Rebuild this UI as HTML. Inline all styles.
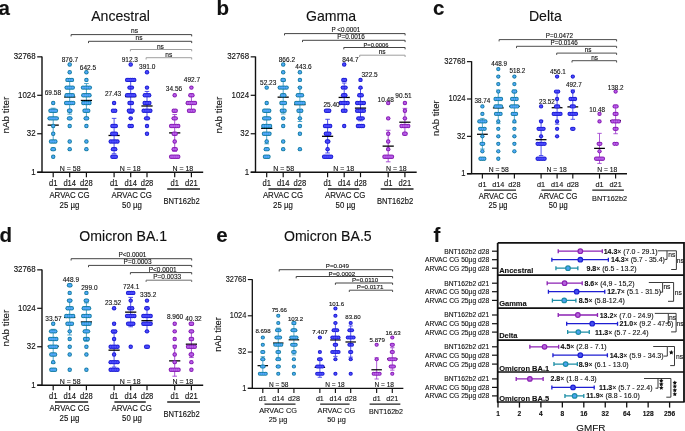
<!DOCTYPE html><html><head><meta charset="utf-8"><style>
html,body{margin:0;padding:0;background:#fff;}
svg{display:block;will-change:transform;}
text{font-family:"Liberation Sans", sans-serif;fill:#111;}
.s text{stroke:#111;stroke-width:0.12px;}
</style></head><body>
<svg class="s" width="685" height="431" viewBox="0 0 685 431">
<text x="-1.5" y="14.9" font-size="20.5" font-weight="bold">a</text>
<text x="216.5" y="14.9" font-size="20.5" font-weight="bold">b</text>
<text x="433" y="14.9" font-size="20.5" font-weight="bold">c</text>
<text x="-0.5" y="241.8" font-size="20.5" font-weight="bold">d</text>
<text x="216.3" y="241.8" font-size="20.5" font-weight="bold">e</text>
<text x="433.5" y="241.6" font-size="20.5" font-weight="bold">f</text>
<text x="120.55" y="21.1" font-size="14.1" text-anchor="middle">Ancestral</text>
<text x="331" y="21.3" font-size="14.1" text-anchor="middle">Gamma</text>
<text x="545.4" y="21.2" font-size="14.1" text-anchor="middle">Delta</text>
<text x="123.2" y="240.8" font-size="14.1" text-anchor="middle">Omicron BA.1</text>
<text x="327.8" y="240.8" font-size="14.1" text-anchor="middle">Omicron BA.5</text>
<g transform="translate(0 0)">
<path d="M42 56.5V172.2M37.2 172.2H203.2" stroke="#111" stroke-width="1.4" fill="none"/>
<path d="M37.2 172.20H42" stroke="#111" stroke-width="1.2"/>
<path d="M37.2 133.75H42" stroke="#111" stroke-width="1.2"/>
<path d="M37.2 95.30H42" stroke="#111" stroke-width="1.2"/>
<path d="M37.2 56.85H42" stroke="#111" stroke-width="1.2"/>
<path d="M53.2 172.2V177.2" stroke="#111" stroke-width="1.2"/>
<path d="M69.7 172.2V177.2" stroke="#111" stroke-width="1.2"/>
<path d="M86.4 172.2V177.2" stroke="#111" stroke-width="1.2"/>
<path d="M114.1 172.2V177.2" stroke="#111" stroke-width="1.2"/>
<path d="M130.7 172.2V177.2" stroke="#111" stroke-width="1.2"/>
<path d="M147.0 172.2V177.2" stroke="#111" stroke-width="1.2"/>
<path d="M174.7 172.2V177.2" stroke="#111" stroke-width="1.2"/>
<path d="M191.4 172.2V177.2" stroke="#111" stroke-width="1.2"/>
<text transform="translate(35.60 59.40) scale(1 1.1)" font-size="7.9" text-anchor="end">32768</text>
<text transform="translate(35.60 97.85) scale(1 1.1)" font-size="7.9" text-anchor="end">1024</text>
<text transform="translate(35.60 136.30) scale(1 1.1)" font-size="7.9" text-anchor="end">32</text>
<text transform="translate(35.60 174.75) scale(1 1.1)" font-size="7.9" text-anchor="end">1</text>
<text transform="translate(8.6 115.1) rotate(-90)" font-size="9.9" text-anchor="middle">nAb titer</text>
<text transform="translate(70.20 170.70) scale(1 1.06)" font-size="7.0" text-anchor="middle">N = 58</text>
<text transform="translate(130.20 170.70) scale(1 1.06)" font-size="7.0" text-anchor="middle">N = 18</text>
<text transform="translate(182.80 170.70) scale(1 1.06)" font-size="7.0" text-anchor="middle">N = 18</text>
<text transform="translate(53.20 185.70) scale(1 1.08)" font-size="7.6" text-anchor="middle">d1</text>
<text transform="translate(69.70 185.70) scale(1 1.08)" font-size="7.6" text-anchor="middle">d14</text>
<text transform="translate(86.40 185.70) scale(1 1.08)" font-size="7.6" text-anchor="middle">d28</text>
<text transform="translate(114.10 185.70) scale(1 1.08)" font-size="7.6" text-anchor="middle">d1</text>
<text transform="translate(130.70 185.70) scale(1 1.08)" font-size="7.6" text-anchor="middle">d14</text>
<text transform="translate(147.00 185.70) scale(1 1.08)" font-size="7.6" text-anchor="middle">d28</text>
<text transform="translate(174.70 185.70) scale(1 1.08)" font-size="7.6" text-anchor="middle">d1</text>
<text transform="translate(191.40 185.70) scale(1 1.08)" font-size="7.6" text-anchor="middle">d21</text>
<path d="M55 189H88.1M114.4 189H145.8M167.2 189H200" stroke="#222" stroke-width="1.3"/>
<text transform="translate(69.50 197.90) scale(1 1.08)" font-size="7.85" text-anchor="middle">ARVAC CG</text>
<text transform="translate(69.40 207.90) scale(1 1.08)" font-size="7.85" text-anchor="middle">25 µg</text>
<text transform="translate(131.70 197.90) scale(1 1.08)" font-size="7.85" text-anchor="middle">ARVAC CG</text>
<text transform="translate(131.90 207.90) scale(1 1.08)" font-size="7.85" text-anchor="middle">50 µg</text>
<text transform="translate(181.50 203.80) scale(1 1.08)" font-size="7.6" text-anchor="middle">BNT162b2</text>
<path d="M53.2 108.21V142.05M50.90 108.21h4.6M50.90 142.05h4.6" stroke="#3a9cc8" stroke-width="0.9" fill="none"/>
<path d="M47.60 125.13h11.2" stroke="#000" stroke-width="1.3"/>
<circle cx="53.20" cy="102.99" r="2.2" fill="#127c9e"/>
<circle cx="53.20" cy="102.99" r="1.2" fill="#58aaff" stroke="#3a9ae0" stroke-width="0.3"/>
<circle cx="50.50" cy="110.68" r="2.2" fill="#127c9e"/>
<circle cx="52.30" cy="110.68" r="2.2" fill="#127c9e"/>
<circle cx="54.10" cy="110.68" r="2.2" fill="#127c9e"/>
<circle cx="55.90" cy="110.68" r="2.2" fill="#127c9e"/>
<circle cx="50.50" cy="110.68" r="1.2" fill="#58aaff" stroke="#3a9ae0" stroke-width="0.3"/>
<circle cx="52.30" cy="110.68" r="1.2" fill="#58aaff" stroke="#3a9ae0" stroke-width="0.3"/>
<circle cx="54.10" cy="110.68" r="1.2" fill="#58aaff" stroke="#3a9ae0" stroke-width="0.3"/>
<circle cx="55.90" cy="110.68" r="1.2" fill="#58aaff" stroke="#3a9ae0" stroke-width="0.3"/>
<circle cx="49.65" cy="118.37" r="2.2" fill="#127c9e"/>
<circle cx="51.43" cy="118.37" r="2.2" fill="#127c9e"/>
<circle cx="53.20" cy="118.37" r="2.2" fill="#127c9e"/>
<circle cx="54.98" cy="118.37" r="2.2" fill="#127c9e"/>
<circle cx="56.75" cy="118.37" r="2.2" fill="#127c9e"/>
<circle cx="49.65" cy="118.37" r="1.2" fill="#58aaff" stroke="#3a9ae0" stroke-width="0.3"/>
<circle cx="51.43" cy="118.37" r="1.2" fill="#58aaff" stroke="#3a9ae0" stroke-width="0.3"/>
<circle cx="53.20" cy="118.37" r="1.2" fill="#58aaff" stroke="#3a9ae0" stroke-width="0.3"/>
<circle cx="54.98" cy="118.37" r="1.2" fill="#58aaff" stroke="#3a9ae0" stroke-width="0.3"/>
<circle cx="56.75" cy="118.37" r="1.2" fill="#58aaff" stroke="#3a9ae0" stroke-width="0.3"/>
<circle cx="53.20" cy="126.06" r="2.2" fill="#127c9e"/>
<circle cx="53.20" cy="126.06" r="1.2" fill="#58aaff" stroke="#3a9ae0" stroke-width="0.3"/>
<circle cx="53.20" cy="133.75" r="2.2" fill="#127c9e"/>
<circle cx="53.20" cy="133.75" r="1.2" fill="#58aaff" stroke="#3a9ae0" stroke-width="0.3"/>
<circle cx="51.05" cy="141.44" r="2.2" fill="#127c9e"/>
<circle cx="53.20" cy="141.44" r="2.2" fill="#127c9e"/>
<circle cx="55.35" cy="141.44" r="2.2" fill="#127c9e"/>
<circle cx="51.05" cy="141.44" r="1.2" fill="#58aaff" stroke="#3a9ae0" stroke-width="0.3"/>
<circle cx="53.20" cy="141.44" r="1.2" fill="#58aaff" stroke="#3a9ae0" stroke-width="0.3"/>
<circle cx="55.35" cy="141.44" r="1.2" fill="#58aaff" stroke="#3a9ae0" stroke-width="0.3"/>
<circle cx="52.55" cy="149.13" r="2.2" fill="#127c9e"/>
<circle cx="53.85" cy="149.13" r="2.2" fill="#127c9e"/>
<circle cx="52.55" cy="149.13" r="1.2" fill="#58aaff" stroke="#3a9ae0" stroke-width="0.3"/>
<circle cx="53.85" cy="149.13" r="1.2" fill="#58aaff" stroke="#3a9ae0" stroke-width="0.3"/>
<circle cx="53.20" cy="156.82" r="2.2" fill="#127c9e"/>
<circle cx="53.20" cy="156.82" r="1.2" fill="#58aaff" stroke="#3a9ae0" stroke-width="0.3"/>
<path d="M69.7 80.69V114.14M67.40 80.69h4.6M67.40 114.14h4.6" stroke="#3a9cc8" stroke-width="0.9" fill="none"/>
<path d="M64.10 97.02h11.2" stroke="#000" stroke-width="1.3"/>
<circle cx="69.70" cy="64.54" r="2.2" fill="#127c9e"/>
<circle cx="69.70" cy="64.54" r="1.2" fill="#58aaff" stroke="#3a9ae0" stroke-width="0.3"/>
<circle cx="69.70" cy="72.23" r="2.2" fill="#127c9e"/>
<circle cx="69.70" cy="72.23" r="1.2" fill="#58aaff" stroke="#3a9ae0" stroke-width="0.3"/>
<circle cx="67.45" cy="79.92" r="2.2" fill="#127c9e"/>
<circle cx="69.70" cy="79.92" r="2.2" fill="#127c9e"/>
<circle cx="71.95" cy="79.92" r="2.2" fill="#127c9e"/>
<circle cx="67.45" cy="79.92" r="1.2" fill="#58aaff" stroke="#3a9ae0" stroke-width="0.3"/>
<circle cx="69.70" cy="79.92" r="1.2" fill="#58aaff" stroke="#3a9ae0" stroke-width="0.3"/>
<circle cx="71.95" cy="79.92" r="1.2" fill="#58aaff" stroke="#3a9ae0" stroke-width="0.3"/>
<circle cx="66.65" cy="87.61" r="2.2" fill="#127c9e"/>
<circle cx="68.68" cy="87.61" r="2.2" fill="#127c9e"/>
<circle cx="70.72" cy="87.61" r="2.2" fill="#127c9e"/>
<circle cx="72.75" cy="87.61" r="2.2" fill="#127c9e"/>
<circle cx="66.65" cy="87.61" r="1.2" fill="#58aaff" stroke="#3a9ae0" stroke-width="0.3"/>
<circle cx="68.68" cy="87.61" r="1.2" fill="#58aaff" stroke="#3a9ae0" stroke-width="0.3"/>
<circle cx="70.72" cy="87.61" r="1.2" fill="#58aaff" stroke="#3a9ae0" stroke-width="0.3"/>
<circle cx="72.75" cy="87.61" r="1.2" fill="#58aaff" stroke="#3a9ae0" stroke-width="0.3"/>
<circle cx="66.65" cy="95.30" r="2.2" fill="#127c9e"/>
<circle cx="68.68" cy="95.30" r="2.2" fill="#127c9e"/>
<circle cx="70.72" cy="95.30" r="2.2" fill="#127c9e"/>
<circle cx="72.75" cy="95.30" r="2.2" fill="#127c9e"/>
<circle cx="66.65" cy="95.30" r="1.2" fill="#58aaff" stroke="#3a9ae0" stroke-width="0.3"/>
<circle cx="68.68" cy="95.30" r="1.2" fill="#58aaff" stroke="#3a9ae0" stroke-width="0.3"/>
<circle cx="70.72" cy="95.30" r="1.2" fill="#58aaff" stroke="#3a9ae0" stroke-width="0.3"/>
<circle cx="72.75" cy="95.30" r="1.2" fill="#58aaff" stroke="#3a9ae0" stroke-width="0.3"/>
<circle cx="66.15" cy="102.99" r="2.2" fill="#127c9e"/>
<circle cx="67.93" cy="102.99" r="2.2" fill="#127c9e"/>
<circle cx="69.70" cy="102.99" r="2.2" fill="#127c9e"/>
<circle cx="71.48" cy="102.99" r="2.2" fill="#127c9e"/>
<circle cx="73.25" cy="102.99" r="2.2" fill="#127c9e"/>
<circle cx="66.15" cy="102.99" r="1.2" fill="#58aaff" stroke="#3a9ae0" stroke-width="0.3"/>
<circle cx="67.93" cy="102.99" r="1.2" fill="#58aaff" stroke="#3a9ae0" stroke-width="0.3"/>
<circle cx="69.70" cy="102.99" r="1.2" fill="#58aaff" stroke="#3a9ae0" stroke-width="0.3"/>
<circle cx="71.48" cy="102.99" r="1.2" fill="#58aaff" stroke="#3a9ae0" stroke-width="0.3"/>
<circle cx="73.25" cy="102.99" r="1.2" fill="#58aaff" stroke="#3a9ae0" stroke-width="0.3"/>
<circle cx="69.05" cy="110.68" r="2.2" fill="#127c9e"/>
<circle cx="70.35" cy="110.68" r="2.2" fill="#127c9e"/>
<circle cx="69.05" cy="110.68" r="1.2" fill="#58aaff" stroke="#3a9ae0" stroke-width="0.3"/>
<circle cx="70.35" cy="110.68" r="1.2" fill="#58aaff" stroke="#3a9ae0" stroke-width="0.3"/>
<circle cx="69.05" cy="118.37" r="2.2" fill="#127c9e"/>
<circle cx="70.35" cy="118.37" r="2.2" fill="#127c9e"/>
<circle cx="69.05" cy="118.37" r="1.2" fill="#58aaff" stroke="#3a9ae0" stroke-width="0.3"/>
<circle cx="70.35" cy="118.37" r="1.2" fill="#58aaff" stroke="#3a9ae0" stroke-width="0.3"/>
<circle cx="69.70" cy="126.06" r="2.2" fill="#127c9e"/>
<circle cx="69.70" cy="126.06" r="1.2" fill="#58aaff" stroke="#3a9ae0" stroke-width="0.3"/>
<circle cx="69.70" cy="141.44" r="2.2" fill="#127c9e"/>
<circle cx="69.70" cy="141.44" r="1.2" fill="#58aaff" stroke="#3a9ae0" stroke-width="0.3"/>
<circle cx="69.70" cy="149.13" r="2.2" fill="#127c9e"/>
<circle cx="69.70" cy="149.13" r="1.2" fill="#58aaff" stroke="#3a9ae0" stroke-width="0.3"/>
<path d="M86.4 83.55V117.39M84.10 83.55h4.6M84.10 117.39h4.6" stroke="#3a9cc8" stroke-width="0.9" fill="none"/>
<path d="M80.80 100.47h11.2" stroke="#000" stroke-width="1.3"/>
<circle cx="86.40" cy="72.23" r="2.2" fill="#127c9e"/>
<circle cx="86.40" cy="72.23" r="1.2" fill="#58aaff" stroke="#3a9ae0" stroke-width="0.3"/>
<circle cx="86.40" cy="79.92" r="2.2" fill="#127c9e"/>
<circle cx="86.40" cy="79.92" r="1.2" fill="#58aaff" stroke="#3a9ae0" stroke-width="0.3"/>
<circle cx="83.00" cy="87.61" r="2.2" fill="#127c9e"/>
<circle cx="85.27" cy="87.61" r="2.2" fill="#127c9e"/>
<circle cx="87.53" cy="87.61" r="2.2" fill="#127c9e"/>
<circle cx="89.80" cy="87.61" r="2.2" fill="#127c9e"/>
<circle cx="83.00" cy="87.61" r="1.2" fill="#58aaff" stroke="#3a9ae0" stroke-width="0.3"/>
<circle cx="85.27" cy="87.61" r="1.2" fill="#58aaff" stroke="#3a9ae0" stroke-width="0.3"/>
<circle cx="87.53" cy="87.61" r="1.2" fill="#58aaff" stroke="#3a9ae0" stroke-width="0.3"/>
<circle cx="89.80" cy="87.61" r="1.2" fill="#58aaff" stroke="#3a9ae0" stroke-width="0.3"/>
<circle cx="83.35" cy="95.30" r="2.2" fill="#127c9e"/>
<circle cx="85.38" cy="95.30" r="2.2" fill="#127c9e"/>
<circle cx="87.42" cy="95.30" r="2.2" fill="#127c9e"/>
<circle cx="89.45" cy="95.30" r="2.2" fill="#127c9e"/>
<circle cx="83.35" cy="95.30" r="1.2" fill="#58aaff" stroke="#3a9ae0" stroke-width="0.3"/>
<circle cx="85.38" cy="95.30" r="1.2" fill="#58aaff" stroke="#3a9ae0" stroke-width="0.3"/>
<circle cx="87.42" cy="95.30" r="1.2" fill="#58aaff" stroke="#3a9ae0" stroke-width="0.3"/>
<circle cx="89.45" cy="95.30" r="1.2" fill="#58aaff" stroke="#3a9ae0" stroke-width="0.3"/>
<circle cx="83.35" cy="102.99" r="2.2" fill="#127c9e"/>
<circle cx="85.38" cy="102.99" r="2.2" fill="#127c9e"/>
<circle cx="87.42" cy="102.99" r="2.2" fill="#127c9e"/>
<circle cx="89.45" cy="102.99" r="2.2" fill="#127c9e"/>
<circle cx="83.35" cy="102.99" r="1.2" fill="#58aaff" stroke="#3a9ae0" stroke-width="0.3"/>
<circle cx="85.38" cy="102.99" r="1.2" fill="#58aaff" stroke="#3a9ae0" stroke-width="0.3"/>
<circle cx="87.42" cy="102.99" r="1.2" fill="#58aaff" stroke="#3a9ae0" stroke-width="0.3"/>
<circle cx="89.45" cy="102.99" r="1.2" fill="#58aaff" stroke="#3a9ae0" stroke-width="0.3"/>
<circle cx="84.55" cy="110.68" r="2.2" fill="#127c9e"/>
<circle cx="86.40" cy="110.68" r="2.2" fill="#127c9e"/>
<circle cx="88.25" cy="110.68" r="2.2" fill="#127c9e"/>
<circle cx="84.55" cy="110.68" r="1.2" fill="#58aaff" stroke="#3a9ae0" stroke-width="0.3"/>
<circle cx="86.40" cy="110.68" r="1.2" fill="#58aaff" stroke="#3a9ae0" stroke-width="0.3"/>
<circle cx="88.25" cy="110.68" r="1.2" fill="#58aaff" stroke="#3a9ae0" stroke-width="0.3"/>
<circle cx="85.75" cy="118.37" r="2.2" fill="#127c9e"/>
<circle cx="87.05" cy="118.37" r="2.2" fill="#127c9e"/>
<circle cx="85.75" cy="118.37" r="1.2" fill="#58aaff" stroke="#3a9ae0" stroke-width="0.3"/>
<circle cx="87.05" cy="118.37" r="1.2" fill="#58aaff" stroke="#3a9ae0" stroke-width="0.3"/>
<circle cx="86.40" cy="126.06" r="2.2" fill="#127c9e"/>
<circle cx="86.40" cy="126.06" r="1.2" fill="#58aaff" stroke="#3a9ae0" stroke-width="0.3"/>
<circle cx="86.40" cy="141.44" r="2.2" fill="#127c9e"/>
<circle cx="86.40" cy="141.44" r="1.2" fill="#58aaff" stroke="#3a9ae0" stroke-width="0.3"/>
<circle cx="86.40" cy="149.13" r="2.2" fill="#127c9e"/>
<circle cx="86.40" cy="149.13" r="1.2" fill="#58aaff" stroke="#3a9ae0" stroke-width="0.3"/>
<path d="M114.1 118.37V153.74M111.80 118.37h4.6M111.80 153.74h4.6" stroke="#3a3aea" stroke-width="0.9" fill="none"/>
<path d="M108.50 135.46h11.2" stroke="#000" stroke-width="1.3"/>
<circle cx="114.10" cy="102.99" r="2.2" fill="#1a1ad0"/>
<circle cx="114.10" cy="102.99" r="1.2" fill="#5050ff" stroke="#3434ee" stroke-width="0.3"/>
<circle cx="113.00" cy="110.68" r="2.2" fill="#1a1ad0"/>
<circle cx="115.20" cy="110.68" r="2.2" fill="#1a1ad0"/>
<circle cx="113.00" cy="110.68" r="1.2" fill="#5050ff" stroke="#3434ee" stroke-width="0.3"/>
<circle cx="115.20" cy="110.68" r="1.2" fill="#5050ff" stroke="#3434ee" stroke-width="0.3"/>
<circle cx="112.40" cy="126.06" r="2.2" fill="#1a1ad0"/>
<circle cx="114.10" cy="126.06" r="2.2" fill="#1a1ad0"/>
<circle cx="115.80" cy="126.06" r="2.2" fill="#1a1ad0"/>
<circle cx="112.40" cy="126.06" r="1.2" fill="#5050ff" stroke="#3434ee" stroke-width="0.3"/>
<circle cx="114.10" cy="126.06" r="1.2" fill="#5050ff" stroke="#3434ee" stroke-width="0.3"/>
<circle cx="115.80" cy="126.06" r="1.2" fill="#5050ff" stroke="#3434ee" stroke-width="0.3"/>
<circle cx="112.25" cy="133.75" r="2.2" fill="#1a1ad0"/>
<circle cx="114.10" cy="133.75" r="2.2" fill="#1a1ad0"/>
<circle cx="115.95" cy="133.75" r="2.2" fill="#1a1ad0"/>
<circle cx="112.25" cy="133.75" r="1.2" fill="#5050ff" stroke="#3434ee" stroke-width="0.3"/>
<circle cx="114.10" cy="133.75" r="1.2" fill="#5050ff" stroke="#3434ee" stroke-width="0.3"/>
<circle cx="115.95" cy="133.75" r="1.2" fill="#5050ff" stroke="#3434ee" stroke-width="0.3"/>
<circle cx="110.75" cy="141.44" r="2.2" fill="#1a1ad0"/>
<circle cx="112.98" cy="141.44" r="2.2" fill="#1a1ad0"/>
<circle cx="115.22" cy="141.44" r="2.2" fill="#1a1ad0"/>
<circle cx="117.45" cy="141.44" r="2.2" fill="#1a1ad0"/>
<circle cx="110.75" cy="141.44" r="1.2" fill="#5050ff" stroke="#3434ee" stroke-width="0.3"/>
<circle cx="112.98" cy="141.44" r="1.2" fill="#5050ff" stroke="#3434ee" stroke-width="0.3"/>
<circle cx="115.22" cy="141.44" r="1.2" fill="#5050ff" stroke="#3434ee" stroke-width="0.3"/>
<circle cx="117.45" cy="141.44" r="1.2" fill="#5050ff" stroke="#3434ee" stroke-width="0.3"/>
<circle cx="113.00" cy="149.13" r="2.2" fill="#1a1ad0"/>
<circle cx="115.20" cy="149.13" r="2.2" fill="#1a1ad0"/>
<circle cx="113.00" cy="149.13" r="1.2" fill="#5050ff" stroke="#3434ee" stroke-width="0.3"/>
<circle cx="115.20" cy="149.13" r="1.2" fill="#5050ff" stroke="#3434ee" stroke-width="0.3"/>
<circle cx="112.40" cy="156.82" r="2.2" fill="#1a1ad0"/>
<circle cx="114.10" cy="156.82" r="2.2" fill="#1a1ad0"/>
<circle cx="115.80" cy="156.82" r="2.2" fill="#1a1ad0"/>
<circle cx="112.40" cy="156.82" r="1.2" fill="#5050ff" stroke="#3434ee" stroke-width="0.3"/>
<circle cx="114.10" cy="156.82" r="1.2" fill="#5050ff" stroke="#3434ee" stroke-width="0.3"/>
<circle cx="115.80" cy="156.82" r="1.2" fill="#5050ff" stroke="#3434ee" stroke-width="0.3"/>
<path d="M130.7 79.66V113.50M128.40 79.66h4.6M128.40 113.50h4.6" stroke="#3a3aea" stroke-width="0.9" fill="none"/>
<path d="M125.10 96.58h11.2" stroke="#000" stroke-width="1.3"/>
<circle cx="130.70" cy="64.54" r="2.2" fill="#1a1ad0"/>
<circle cx="130.70" cy="64.54" r="1.2" fill="#5050ff" stroke="#3434ee" stroke-width="0.3"/>
<circle cx="127.15" cy="79.92" r="2.2" fill="#1a1ad0"/>
<circle cx="128.92" cy="79.92" r="2.2" fill="#1a1ad0"/>
<circle cx="130.70" cy="79.92" r="2.2" fill="#1a1ad0"/>
<circle cx="132.47" cy="79.92" r="2.2" fill="#1a1ad0"/>
<circle cx="134.25" cy="79.92" r="2.2" fill="#1a1ad0"/>
<circle cx="127.15" cy="79.92" r="1.2" fill="#5050ff" stroke="#3434ee" stroke-width="0.3"/>
<circle cx="128.92" cy="79.92" r="1.2" fill="#5050ff" stroke="#3434ee" stroke-width="0.3"/>
<circle cx="130.70" cy="79.92" r="1.2" fill="#5050ff" stroke="#3434ee" stroke-width="0.3"/>
<circle cx="132.47" cy="79.92" r="1.2" fill="#5050ff" stroke="#3434ee" stroke-width="0.3"/>
<circle cx="134.25" cy="79.92" r="1.2" fill="#5050ff" stroke="#3434ee" stroke-width="0.3"/>
<circle cx="129.50" cy="87.61" r="2.2" fill="#1a1ad0"/>
<circle cx="131.90" cy="87.61" r="2.2" fill="#1a1ad0"/>
<circle cx="129.50" cy="87.61" r="1.2" fill="#5050ff" stroke="#3434ee" stroke-width="0.3"/>
<circle cx="131.90" cy="87.61" r="1.2" fill="#5050ff" stroke="#3434ee" stroke-width="0.3"/>
<circle cx="127.15" cy="95.30" r="2.2" fill="#1a1ad0"/>
<circle cx="128.92" cy="95.30" r="2.2" fill="#1a1ad0"/>
<circle cx="130.70" cy="95.30" r="2.2" fill="#1a1ad0"/>
<circle cx="132.47" cy="95.30" r="2.2" fill="#1a1ad0"/>
<circle cx="134.25" cy="95.30" r="2.2" fill="#1a1ad0"/>
<circle cx="127.15" cy="95.30" r="1.2" fill="#5050ff" stroke="#3434ee" stroke-width="0.3"/>
<circle cx="128.92" cy="95.30" r="1.2" fill="#5050ff" stroke="#3434ee" stroke-width="0.3"/>
<circle cx="130.70" cy="95.30" r="1.2" fill="#5050ff" stroke="#3434ee" stroke-width="0.3"/>
<circle cx="132.47" cy="95.30" r="1.2" fill="#5050ff" stroke="#3434ee" stroke-width="0.3"/>
<circle cx="134.25" cy="95.30" r="1.2" fill="#5050ff" stroke="#3434ee" stroke-width="0.3"/>
<circle cx="129.50" cy="102.99" r="2.2" fill="#1a1ad0"/>
<circle cx="131.90" cy="102.99" r="2.2" fill="#1a1ad0"/>
<circle cx="129.50" cy="102.99" r="1.2" fill="#5050ff" stroke="#3434ee" stroke-width="0.3"/>
<circle cx="131.90" cy="102.99" r="1.2" fill="#5050ff" stroke="#3434ee" stroke-width="0.3"/>
<circle cx="128.85" cy="110.68" r="2.2" fill="#1a1ad0"/>
<circle cx="130.70" cy="110.68" r="2.2" fill="#1a1ad0"/>
<circle cx="132.55" cy="110.68" r="2.2" fill="#1a1ad0"/>
<circle cx="128.85" cy="110.68" r="1.2" fill="#5050ff" stroke="#3434ee" stroke-width="0.3"/>
<circle cx="130.70" cy="110.68" r="1.2" fill="#5050ff" stroke="#3434ee" stroke-width="0.3"/>
<circle cx="132.55" cy="110.68" r="1.2" fill="#5050ff" stroke="#3434ee" stroke-width="0.3"/>
<circle cx="130.70" cy="118.37" r="2.2" fill="#1a1ad0"/>
<circle cx="130.70" cy="118.37" r="1.2" fill="#5050ff" stroke="#3434ee" stroke-width="0.3"/>
<circle cx="129.60" cy="126.06" r="2.2" fill="#1a1ad0"/>
<circle cx="131.80" cy="126.06" r="2.2" fill="#1a1ad0"/>
<circle cx="129.60" cy="126.06" r="1.2" fill="#5050ff" stroke="#3434ee" stroke-width="0.3"/>
<circle cx="131.80" cy="126.06" r="1.2" fill="#5050ff" stroke="#3434ee" stroke-width="0.3"/>
<path d="M147.0 91.45V118.37M144.70 91.45h4.6M144.70 118.37h4.6" stroke="#3a3aea" stroke-width="0.9" fill="none"/>
<path d="M141.40 105.98h11.2" stroke="#000" stroke-width="1.3"/>
<circle cx="147.00" cy="72.23" r="2.2" fill="#1a1ad0"/>
<circle cx="147.00" cy="72.23" r="1.2" fill="#5050ff" stroke="#3434ee" stroke-width="0.3"/>
<circle cx="147.00" cy="87.61" r="2.2" fill="#1a1ad0"/>
<circle cx="147.00" cy="87.61" r="1.2" fill="#5050ff" stroke="#3434ee" stroke-width="0.3"/>
<circle cx="144.85" cy="95.30" r="2.2" fill="#1a1ad0"/>
<circle cx="147.00" cy="95.30" r="2.2" fill="#1a1ad0"/>
<circle cx="149.15" cy="95.30" r="2.2" fill="#1a1ad0"/>
<circle cx="144.85" cy="95.30" r="1.2" fill="#5050ff" stroke="#3434ee" stroke-width="0.3"/>
<circle cx="147.00" cy="95.30" r="1.2" fill="#5050ff" stroke="#3434ee" stroke-width="0.3"/>
<circle cx="149.15" cy="95.30" r="1.2" fill="#5050ff" stroke="#3434ee" stroke-width="0.3"/>
<circle cx="144.65" cy="102.99" r="2.2" fill="#1a1ad0"/>
<circle cx="147.00" cy="102.99" r="2.2" fill="#1a1ad0"/>
<circle cx="149.35" cy="102.99" r="2.2" fill="#1a1ad0"/>
<circle cx="144.65" cy="102.99" r="1.2" fill="#5050ff" stroke="#3434ee" stroke-width="0.3"/>
<circle cx="147.00" cy="102.99" r="1.2" fill="#5050ff" stroke="#3434ee" stroke-width="0.3"/>
<circle cx="149.35" cy="102.99" r="1.2" fill="#5050ff" stroke="#3434ee" stroke-width="0.3"/>
<circle cx="143.65" cy="110.68" r="2.2" fill="#1a1ad0"/>
<circle cx="145.88" cy="110.68" r="2.2" fill="#1a1ad0"/>
<circle cx="148.12" cy="110.68" r="2.2" fill="#1a1ad0"/>
<circle cx="150.35" cy="110.68" r="2.2" fill="#1a1ad0"/>
<circle cx="143.65" cy="110.68" r="1.2" fill="#5050ff" stroke="#3434ee" stroke-width="0.3"/>
<circle cx="145.88" cy="110.68" r="1.2" fill="#5050ff" stroke="#3434ee" stroke-width="0.3"/>
<circle cx="148.12" cy="110.68" r="1.2" fill="#5050ff" stroke="#3434ee" stroke-width="0.3"/>
<circle cx="150.35" cy="110.68" r="1.2" fill="#5050ff" stroke="#3434ee" stroke-width="0.3"/>
<circle cx="146.15" cy="118.37" r="2.2" fill="#1a1ad0"/>
<circle cx="147.85" cy="118.37" r="2.2" fill="#1a1ad0"/>
<circle cx="146.15" cy="118.37" r="1.2" fill="#5050ff" stroke="#3434ee" stroke-width="0.3"/>
<circle cx="147.85" cy="118.37" r="1.2" fill="#5050ff" stroke="#3434ee" stroke-width="0.3"/>
<circle cx="147.00" cy="126.06" r="2.2" fill="#1a1ad0"/>
<circle cx="147.00" cy="126.06" r="1.2" fill="#5050ff" stroke="#3434ee" stroke-width="0.3"/>
<circle cx="147.00" cy="133.75" r="2.2" fill="#1a1ad0"/>
<circle cx="147.00" cy="133.75" r="1.2" fill="#5050ff" stroke="#3434ee" stroke-width="0.3"/>
<path d="M174.7 114.52V151.44M172.40 114.52h4.6M172.40 151.44h4.6" stroke="#a040d0" stroke-width="0.9" fill="none"/>
<path d="M169.10 132.90h11.2" stroke="#000" stroke-width="1.3"/>
<circle cx="174.70" cy="95.30" r="2.2" fill="#8418b0"/>
<circle cx="174.70" cy="95.30" r="1.2" fill="#bc64ec" stroke="#a040d4" stroke-width="0.3"/>
<circle cx="173.70" cy="110.68" r="2.2" fill="#8418b0"/>
<circle cx="175.70" cy="110.68" r="2.2" fill="#8418b0"/>
<circle cx="173.70" cy="110.68" r="1.2" fill="#bc64ec" stroke="#a040d4" stroke-width="0.3"/>
<circle cx="175.70" cy="110.68" r="1.2" fill="#bc64ec" stroke="#a040d4" stroke-width="0.3"/>
<circle cx="173.70" cy="118.37" r="2.2" fill="#8418b0"/>
<circle cx="175.70" cy="118.37" r="2.2" fill="#8418b0"/>
<circle cx="173.70" cy="118.37" r="1.2" fill="#bc64ec" stroke="#a040d4" stroke-width="0.3"/>
<circle cx="175.70" cy="118.37" r="1.2" fill="#bc64ec" stroke="#a040d4" stroke-width="0.3"/>
<circle cx="171.15" cy="126.06" r="2.2" fill="#8418b0"/>
<circle cx="172.92" cy="126.06" r="2.2" fill="#8418b0"/>
<circle cx="174.70" cy="126.06" r="2.2" fill="#8418b0"/>
<circle cx="176.47" cy="126.06" r="2.2" fill="#8418b0"/>
<circle cx="178.25" cy="126.06" r="2.2" fill="#8418b0"/>
<circle cx="171.15" cy="126.06" r="1.2" fill="#bc64ec" stroke="#a040d4" stroke-width="0.3"/>
<circle cx="172.92" cy="126.06" r="1.2" fill="#bc64ec" stroke="#a040d4" stroke-width="0.3"/>
<circle cx="174.70" cy="126.06" r="1.2" fill="#bc64ec" stroke="#a040d4" stroke-width="0.3"/>
<circle cx="176.47" cy="126.06" r="1.2" fill="#bc64ec" stroke="#a040d4" stroke-width="0.3"/>
<circle cx="178.25" cy="126.06" r="1.2" fill="#bc64ec" stroke="#a040d4" stroke-width="0.3"/>
<circle cx="173.70" cy="133.75" r="2.2" fill="#8418b0"/>
<circle cx="175.70" cy="133.75" r="2.2" fill="#8418b0"/>
<circle cx="173.70" cy="133.75" r="1.2" fill="#bc64ec" stroke="#a040d4" stroke-width="0.3"/>
<circle cx="175.70" cy="133.75" r="1.2" fill="#bc64ec" stroke="#a040d4" stroke-width="0.3"/>
<circle cx="174.70" cy="141.44" r="2.2" fill="#8418b0"/>
<circle cx="174.70" cy="141.44" r="1.2" fill="#bc64ec" stroke="#a040d4" stroke-width="0.3"/>
<circle cx="173.70" cy="149.13" r="2.2" fill="#8418b0"/>
<circle cx="175.70" cy="149.13" r="2.2" fill="#8418b0"/>
<circle cx="173.70" cy="149.13" r="1.2" fill="#bc64ec" stroke="#a040d4" stroke-width="0.3"/>
<circle cx="175.70" cy="149.13" r="1.2" fill="#bc64ec" stroke="#a040d4" stroke-width="0.3"/>
<circle cx="171.15" cy="156.82" r="2.2" fill="#8418b0"/>
<circle cx="172.92" cy="156.82" r="2.2" fill="#8418b0"/>
<circle cx="174.70" cy="156.82" r="2.2" fill="#8418b0"/>
<circle cx="176.47" cy="156.82" r="2.2" fill="#8418b0"/>
<circle cx="178.25" cy="156.82" r="2.2" fill="#8418b0"/>
<circle cx="171.15" cy="156.82" r="1.2" fill="#bc64ec" stroke="#a040d4" stroke-width="0.3"/>
<circle cx="172.92" cy="156.82" r="1.2" fill="#bc64ec" stroke="#a040d4" stroke-width="0.3"/>
<circle cx="174.70" cy="156.82" r="1.2" fill="#bc64ec" stroke="#a040d4" stroke-width="0.3"/>
<circle cx="176.47" cy="156.82" r="1.2" fill="#bc64ec" stroke="#a040d4" stroke-width="0.3"/>
<circle cx="178.25" cy="156.82" r="1.2" fill="#bc64ec" stroke="#a040d4" stroke-width="0.3"/>
<path d="M191.4 96.07V110.68M189.10 96.07h4.6M189.10 110.68h4.6" stroke="#a040d0" stroke-width="0.9" fill="none"/>
<path d="M185.80 103.42h11.2" stroke="#000" stroke-width="1.3"/>
<circle cx="191.40" cy="87.61" r="2.2" fill="#8418b0"/>
<circle cx="191.40" cy="87.61" r="1.2" fill="#bc64ec" stroke="#a040d4" stroke-width="0.3"/>
<circle cx="190.40" cy="95.30" r="2.2" fill="#8418b0"/>
<circle cx="192.40" cy="95.30" r="2.2" fill="#8418b0"/>
<circle cx="190.40" cy="95.30" r="1.2" fill="#bc64ec" stroke="#a040d4" stroke-width="0.3"/>
<circle cx="192.40" cy="95.30" r="1.2" fill="#bc64ec" stroke="#a040d4" stroke-width="0.3"/>
<circle cx="187.80" cy="102.99" r="2.2" fill="#8418b0"/>
<circle cx="189.60" cy="102.99" r="2.2" fill="#8418b0"/>
<circle cx="191.40" cy="102.99" r="2.2" fill="#8418b0"/>
<circle cx="193.20" cy="102.99" r="2.2" fill="#8418b0"/>
<circle cx="195.00" cy="102.99" r="2.2" fill="#8418b0"/>
<circle cx="187.80" cy="102.99" r="1.2" fill="#bc64ec" stroke="#a040d4" stroke-width="0.3"/>
<circle cx="189.60" cy="102.99" r="1.2" fill="#bc64ec" stroke="#a040d4" stroke-width="0.3"/>
<circle cx="191.40" cy="102.99" r="1.2" fill="#bc64ec" stroke="#a040d4" stroke-width="0.3"/>
<circle cx="193.20" cy="102.99" r="1.2" fill="#bc64ec" stroke="#a040d4" stroke-width="0.3"/>
<circle cx="195.00" cy="102.99" r="1.2" fill="#bc64ec" stroke="#a040d4" stroke-width="0.3"/>
<circle cx="189.05" cy="110.68" r="2.2" fill="#8418b0"/>
<circle cx="191.40" cy="110.68" r="2.2" fill="#8418b0"/>
<circle cx="193.75" cy="110.68" r="2.2" fill="#8418b0"/>
<circle cx="189.05" cy="110.68" r="1.2" fill="#bc64ec" stroke="#a040d4" stroke-width="0.3"/>
<circle cx="191.40" cy="110.68" r="1.2" fill="#bc64ec" stroke="#a040d4" stroke-width="0.3"/>
<circle cx="193.75" cy="110.68" r="1.2" fill="#bc64ec" stroke="#a040d4" stroke-width="0.3"/>
</g>
<g transform="translate(213.5 0)">
<path d="M42 56.5V172.2M37.2 172.2H203.2" stroke="#111" stroke-width="1.4" fill="none"/>
<path d="M37.2 172.20H42" stroke="#111" stroke-width="1.2"/>
<path d="M37.2 133.75H42" stroke="#111" stroke-width="1.2"/>
<path d="M37.2 95.30H42" stroke="#111" stroke-width="1.2"/>
<path d="M37.2 56.85H42" stroke="#111" stroke-width="1.2"/>
<path d="M53.2 172.2V177.2" stroke="#111" stroke-width="1.2"/>
<path d="M69.7 172.2V177.2" stroke="#111" stroke-width="1.2"/>
<path d="M86.4 172.2V177.2" stroke="#111" stroke-width="1.2"/>
<path d="M114.1 172.2V177.2" stroke="#111" stroke-width="1.2"/>
<path d="M130.7 172.2V177.2" stroke="#111" stroke-width="1.2"/>
<path d="M147.0 172.2V177.2" stroke="#111" stroke-width="1.2"/>
<path d="M174.7 172.2V177.2" stroke="#111" stroke-width="1.2"/>
<path d="M191.4 172.2V177.2" stroke="#111" stroke-width="1.2"/>
<text transform="translate(35.60 59.40) scale(1 1.1)" font-size="7.9" text-anchor="end">32768</text>
<text transform="translate(35.60 97.85) scale(1 1.1)" font-size="7.9" text-anchor="end">1024</text>
<text transform="translate(35.60 136.30) scale(1 1.1)" font-size="7.9" text-anchor="end">32</text>
<text transform="translate(35.60 174.75) scale(1 1.1)" font-size="7.9" text-anchor="end">1</text>
<text transform="translate(8.6 115.1) rotate(-90)" font-size="9.9" text-anchor="middle">nAb titer</text>
<text transform="translate(70.20 170.70) scale(1 1.06)" font-size="7.0" text-anchor="middle">N = 58</text>
<text transform="translate(130.20 170.70) scale(1 1.06)" font-size="7.0" text-anchor="middle">N = 18</text>
<text transform="translate(182.80 170.70) scale(1 1.06)" font-size="7.0" text-anchor="middle">N = 18</text>
<text transform="translate(53.20 185.70) scale(1 1.08)" font-size="7.6" text-anchor="middle">d1</text>
<text transform="translate(69.70 185.70) scale(1 1.08)" font-size="7.6" text-anchor="middle">d14</text>
<text transform="translate(86.40 185.70) scale(1 1.08)" font-size="7.6" text-anchor="middle">d28</text>
<text transform="translate(114.10 185.70) scale(1 1.08)" font-size="7.6" text-anchor="middle">d1</text>
<text transform="translate(130.70 185.70) scale(1 1.08)" font-size="7.6" text-anchor="middle">d14</text>
<text transform="translate(147.00 185.70) scale(1 1.08)" font-size="7.6" text-anchor="middle">d28</text>
<text transform="translate(174.70 185.70) scale(1 1.08)" font-size="7.6" text-anchor="middle">d1</text>
<text transform="translate(191.40 185.70) scale(1 1.08)" font-size="7.6" text-anchor="middle">d21</text>
<path d="M55 189H88.1M114.4 189H145.8M167.2 189H200" stroke="#222" stroke-width="1.3"/>
<text transform="translate(69.50 197.90) scale(1 1.08)" font-size="7.85" text-anchor="middle">ARVAC CG</text>
<text transform="translate(69.40 207.90) scale(1 1.08)" font-size="7.85" text-anchor="middle">25 µg</text>
<text transform="translate(131.70 197.90) scale(1 1.08)" font-size="7.85" text-anchor="middle">ARVAC CG</text>
<text transform="translate(131.90 207.90) scale(1 1.08)" font-size="7.85" text-anchor="middle">50 µg</text>
<text transform="translate(181.50 203.80) scale(1 1.08)" font-size="7.6" text-anchor="middle">BNT162b2</text>
<path d="M53.2 112.22V143.82M50.90 112.22h4.6M50.90 143.82h4.6" stroke="#3a9cc8" stroke-width="0.9" fill="none"/>
<path d="M47.60 128.31h11.2" stroke="#000" stroke-width="1.3"/>
<circle cx="53.20" cy="87.61" r="2.2" fill="#127c9e"/>
<circle cx="53.20" cy="87.61" r="1.2" fill="#58aaff" stroke="#3a9ae0" stroke-width="0.3"/>
<circle cx="53.20" cy="102.99" r="2.2" fill="#127c9e"/>
<circle cx="53.20" cy="102.99" r="1.2" fill="#58aaff" stroke="#3a9ae0" stroke-width="0.3"/>
<circle cx="50.70" cy="110.68" r="2.2" fill="#127c9e"/>
<circle cx="52.37" cy="110.68" r="2.2" fill="#127c9e"/>
<circle cx="54.03" cy="110.68" r="2.2" fill="#127c9e"/>
<circle cx="55.70" cy="110.68" r="2.2" fill="#127c9e"/>
<circle cx="50.70" cy="110.68" r="1.2" fill="#58aaff" stroke="#3a9ae0" stroke-width="0.3"/>
<circle cx="52.37" cy="110.68" r="1.2" fill="#58aaff" stroke="#3a9ae0" stroke-width="0.3"/>
<circle cx="54.03" cy="110.68" r="1.2" fill="#58aaff" stroke="#3a9ae0" stroke-width="0.3"/>
<circle cx="55.70" cy="110.68" r="1.2" fill="#58aaff" stroke="#3a9ae0" stroke-width="0.3"/>
<circle cx="50.70" cy="118.37" r="2.2" fill="#127c9e"/>
<circle cx="52.37" cy="118.37" r="2.2" fill="#127c9e"/>
<circle cx="54.03" cy="118.37" r="2.2" fill="#127c9e"/>
<circle cx="55.70" cy="118.37" r="2.2" fill="#127c9e"/>
<circle cx="50.70" cy="118.37" r="1.2" fill="#58aaff" stroke="#3a9ae0" stroke-width="0.3"/>
<circle cx="52.37" cy="118.37" r="1.2" fill="#58aaff" stroke="#3a9ae0" stroke-width="0.3"/>
<circle cx="54.03" cy="118.37" r="1.2" fill="#58aaff" stroke="#3a9ae0" stroke-width="0.3"/>
<circle cx="55.70" cy="118.37" r="1.2" fill="#58aaff" stroke="#3a9ae0" stroke-width="0.3"/>
<circle cx="49.85" cy="126.06" r="2.2" fill="#127c9e"/>
<circle cx="52.08" cy="126.06" r="2.2" fill="#127c9e"/>
<circle cx="54.32" cy="126.06" r="2.2" fill="#127c9e"/>
<circle cx="56.55" cy="126.06" r="2.2" fill="#127c9e"/>
<circle cx="49.85" cy="126.06" r="1.2" fill="#58aaff" stroke="#3a9ae0" stroke-width="0.3"/>
<circle cx="52.08" cy="126.06" r="1.2" fill="#58aaff" stroke="#3a9ae0" stroke-width="0.3"/>
<circle cx="54.32" cy="126.06" r="1.2" fill="#58aaff" stroke="#3a9ae0" stroke-width="0.3"/>
<circle cx="56.55" cy="126.06" r="1.2" fill="#58aaff" stroke="#3a9ae0" stroke-width="0.3"/>
<circle cx="50.45" cy="133.75" r="2.2" fill="#127c9e"/>
<circle cx="52.28" cy="133.75" r="2.2" fill="#127c9e"/>
<circle cx="54.12" cy="133.75" r="2.2" fill="#127c9e"/>
<circle cx="55.95" cy="133.75" r="2.2" fill="#127c9e"/>
<circle cx="50.45" cy="133.75" r="1.2" fill="#58aaff" stroke="#3a9ae0" stroke-width="0.3"/>
<circle cx="52.28" cy="133.75" r="1.2" fill="#58aaff" stroke="#3a9ae0" stroke-width="0.3"/>
<circle cx="54.12" cy="133.75" r="1.2" fill="#58aaff" stroke="#3a9ae0" stroke-width="0.3"/>
<circle cx="55.95" cy="133.75" r="1.2" fill="#58aaff" stroke="#3a9ae0" stroke-width="0.3"/>
<circle cx="53.20" cy="141.44" r="2.2" fill="#127c9e"/>
<circle cx="53.20" cy="141.44" r="1.2" fill="#58aaff" stroke="#3a9ae0" stroke-width="0.3"/>
<circle cx="52.35" cy="149.13" r="2.2" fill="#127c9e"/>
<circle cx="54.05" cy="149.13" r="2.2" fill="#127c9e"/>
<circle cx="52.35" cy="149.13" r="1.2" fill="#58aaff" stroke="#3a9ae0" stroke-width="0.3"/>
<circle cx="54.05" cy="149.13" r="1.2" fill="#58aaff" stroke="#3a9ae0" stroke-width="0.3"/>
<circle cx="51.45" cy="156.82" r="2.2" fill="#127c9e"/>
<circle cx="53.20" cy="156.82" r="2.2" fill="#127c9e"/>
<circle cx="54.95" cy="156.82" r="2.2" fill="#127c9e"/>
<circle cx="51.45" cy="156.82" r="1.2" fill="#58aaff" stroke="#3a9ae0" stroke-width="0.3"/>
<circle cx="53.20" cy="156.82" r="1.2" fill="#58aaff" stroke="#3a9ae0" stroke-width="0.3"/>
<circle cx="54.95" cy="156.82" r="1.2" fill="#58aaff" stroke="#3a9ae0" stroke-width="0.3"/>
<path d="M69.7 80.69V113.99M67.40 80.69h4.6M67.40 113.99h4.6" stroke="#3a9cc8" stroke-width="0.9" fill="none"/>
<path d="M64.10 97.16h11.2" stroke="#000" stroke-width="1.3"/>
<circle cx="69.70" cy="64.54" r="2.2" fill="#127c9e"/>
<circle cx="69.70" cy="64.54" r="1.2" fill="#58aaff" stroke="#3a9ae0" stroke-width="0.3"/>
<circle cx="69.70" cy="72.23" r="2.2" fill="#127c9e"/>
<circle cx="69.70" cy="72.23" r="1.2" fill="#58aaff" stroke="#3a9ae0" stroke-width="0.3"/>
<circle cx="69.10" cy="79.92" r="2.2" fill="#127c9e"/>
<circle cx="70.30" cy="79.92" r="2.2" fill="#127c9e"/>
<circle cx="69.10" cy="79.92" r="1.2" fill="#58aaff" stroke="#3a9ae0" stroke-width="0.3"/>
<circle cx="70.30" cy="79.92" r="1.2" fill="#58aaff" stroke="#3a9ae0" stroke-width="0.3"/>
<circle cx="66.30" cy="87.61" r="2.2" fill="#127c9e"/>
<circle cx="68.57" cy="87.61" r="2.2" fill="#127c9e"/>
<circle cx="70.83" cy="87.61" r="2.2" fill="#127c9e"/>
<circle cx="73.10" cy="87.61" r="2.2" fill="#127c9e"/>
<circle cx="66.30" cy="87.61" r="1.2" fill="#58aaff" stroke="#3a9ae0" stroke-width="0.3"/>
<circle cx="68.57" cy="87.61" r="1.2" fill="#58aaff" stroke="#3a9ae0" stroke-width="0.3"/>
<circle cx="70.83" cy="87.61" r="1.2" fill="#58aaff" stroke="#3a9ae0" stroke-width="0.3"/>
<circle cx="73.10" cy="87.61" r="1.2" fill="#58aaff" stroke="#3a9ae0" stroke-width="0.3"/>
<circle cx="68.60" cy="95.30" r="2.2" fill="#127c9e"/>
<circle cx="70.80" cy="95.30" r="2.2" fill="#127c9e"/>
<circle cx="68.60" cy="95.30" r="1.2" fill="#58aaff" stroke="#3a9ae0" stroke-width="0.3"/>
<circle cx="70.80" cy="95.30" r="1.2" fill="#58aaff" stroke="#3a9ae0" stroke-width="0.3"/>
<circle cx="67.95" cy="102.99" r="2.2" fill="#127c9e"/>
<circle cx="69.70" cy="102.99" r="2.2" fill="#127c9e"/>
<circle cx="71.45" cy="102.99" r="2.2" fill="#127c9e"/>
<circle cx="67.95" cy="102.99" r="1.2" fill="#58aaff" stroke="#3a9ae0" stroke-width="0.3"/>
<circle cx="69.70" cy="102.99" r="1.2" fill="#58aaff" stroke="#3a9ae0" stroke-width="0.3"/>
<circle cx="71.45" cy="102.99" r="1.2" fill="#58aaff" stroke="#3a9ae0" stroke-width="0.3"/>
<circle cx="68.35" cy="110.68" r="2.2" fill="#127c9e"/>
<circle cx="71.05" cy="110.68" r="2.2" fill="#127c9e"/>
<circle cx="68.35" cy="110.68" r="1.2" fill="#58aaff" stroke="#3a9ae0" stroke-width="0.3"/>
<circle cx="71.05" cy="110.68" r="1.2" fill="#58aaff" stroke="#3a9ae0" stroke-width="0.3"/>
<circle cx="69.70" cy="118.37" r="2.2" fill="#127c9e"/>
<circle cx="69.70" cy="118.37" r="1.2" fill="#58aaff" stroke="#3a9ae0" stroke-width="0.3"/>
<circle cx="69.70" cy="126.06" r="2.2" fill="#127c9e"/>
<circle cx="69.70" cy="126.06" r="1.2" fill="#58aaff" stroke="#3a9ae0" stroke-width="0.3"/>
<circle cx="69.70" cy="141.44" r="2.2" fill="#127c9e"/>
<circle cx="69.70" cy="141.44" r="1.2" fill="#58aaff" stroke="#3a9ae0" stroke-width="0.3"/>
<circle cx="69.70" cy="149.13" r="2.2" fill="#127c9e"/>
<circle cx="69.70" cy="149.13" r="1.2" fill="#58aaff" stroke="#3a9ae0" stroke-width="0.3"/>
<path d="M86.4 87.66V121.50M84.10 87.66h4.6M84.10 121.50h4.6" stroke="#3a9cc8" stroke-width="0.9" fill="none"/>
<path d="M80.80 104.58h11.2" stroke="#000" stroke-width="1.3"/>
<circle cx="86.40" cy="72.23" r="2.2" fill="#127c9e"/>
<circle cx="86.40" cy="72.23" r="1.2" fill="#58aaff" stroke="#3a9ae0" stroke-width="0.3"/>
<circle cx="86.40" cy="79.92" r="2.2" fill="#127c9e"/>
<circle cx="86.40" cy="79.92" r="1.2" fill="#58aaff" stroke="#3a9ae0" stroke-width="0.3"/>
<circle cx="86.40" cy="87.61" r="2.2" fill="#127c9e"/>
<circle cx="86.40" cy="87.61" r="1.2" fill="#58aaff" stroke="#3a9ae0" stroke-width="0.3"/>
<circle cx="84.35" cy="95.30" r="2.2" fill="#127c9e"/>
<circle cx="86.40" cy="95.30" r="2.2" fill="#127c9e"/>
<circle cx="88.45" cy="95.30" r="2.2" fill="#127c9e"/>
<circle cx="84.35" cy="95.30" r="1.2" fill="#58aaff" stroke="#3a9ae0" stroke-width="0.3"/>
<circle cx="86.40" cy="95.30" r="1.2" fill="#58aaff" stroke="#3a9ae0" stroke-width="0.3"/>
<circle cx="88.45" cy="95.30" r="1.2" fill="#58aaff" stroke="#3a9ae0" stroke-width="0.3"/>
<circle cx="82.70" cy="102.99" r="2.2" fill="#127c9e"/>
<circle cx="84.55" cy="102.99" r="2.2" fill="#127c9e"/>
<circle cx="86.40" cy="102.99" r="2.2" fill="#127c9e"/>
<circle cx="88.25" cy="102.99" r="2.2" fill="#127c9e"/>
<circle cx="90.10" cy="102.99" r="2.2" fill="#127c9e"/>
<circle cx="82.70" cy="102.99" r="1.2" fill="#58aaff" stroke="#3a9ae0" stroke-width="0.3"/>
<circle cx="84.55" cy="102.99" r="1.2" fill="#58aaff" stroke="#3a9ae0" stroke-width="0.3"/>
<circle cx="86.40" cy="102.99" r="1.2" fill="#58aaff" stroke="#3a9ae0" stroke-width="0.3"/>
<circle cx="88.25" cy="102.99" r="1.2" fill="#58aaff" stroke="#3a9ae0" stroke-width="0.3"/>
<circle cx="90.10" cy="102.99" r="1.2" fill="#58aaff" stroke="#3a9ae0" stroke-width="0.3"/>
<circle cx="85.05" cy="110.68" r="2.2" fill="#127c9e"/>
<circle cx="87.75" cy="110.68" r="2.2" fill="#127c9e"/>
<circle cx="85.05" cy="110.68" r="1.2" fill="#58aaff" stroke="#3a9ae0" stroke-width="0.3"/>
<circle cx="87.75" cy="110.68" r="1.2" fill="#58aaff" stroke="#3a9ae0" stroke-width="0.3"/>
<circle cx="86.40" cy="118.37" r="2.2" fill="#127c9e"/>
<circle cx="86.40" cy="118.37" r="1.2" fill="#58aaff" stroke="#3a9ae0" stroke-width="0.3"/>
<circle cx="86.40" cy="126.06" r="2.2" fill="#127c9e"/>
<circle cx="86.40" cy="126.06" r="1.2" fill="#58aaff" stroke="#3a9ae0" stroke-width="0.3"/>
<circle cx="86.40" cy="133.75" r="2.2" fill="#127c9e"/>
<circle cx="86.40" cy="133.75" r="1.2" fill="#58aaff" stroke="#3a9ae0" stroke-width="0.3"/>
<circle cx="86.40" cy="149.13" r="2.2" fill="#127c9e"/>
<circle cx="86.40" cy="149.13" r="1.2" fill="#58aaff" stroke="#3a9ae0" stroke-width="0.3"/>
<path d="M114.1 119.29V152.97M111.80 119.29h4.6M111.80 152.97h4.6" stroke="#3a3aea" stroke-width="0.9" fill="none"/>
<path d="M108.50 136.31h11.2" stroke="#000" stroke-width="1.3"/>
<circle cx="112.50" cy="110.68" r="2.2" fill="#1a1ad0"/>
<circle cx="114.10" cy="110.68" r="2.2" fill="#1a1ad0"/>
<circle cx="115.70" cy="110.68" r="2.2" fill="#1a1ad0"/>
<circle cx="112.50" cy="110.68" r="1.2" fill="#5050ff" stroke="#3434ee" stroke-width="0.3"/>
<circle cx="114.10" cy="110.68" r="1.2" fill="#5050ff" stroke="#3434ee" stroke-width="0.3"/>
<circle cx="115.70" cy="110.68" r="1.2" fill="#5050ff" stroke="#3434ee" stroke-width="0.3"/>
<circle cx="111.50" cy="126.06" r="2.2" fill="#1a1ad0"/>
<circle cx="113.23" cy="126.06" r="2.2" fill="#1a1ad0"/>
<circle cx="114.97" cy="126.06" r="2.2" fill="#1a1ad0"/>
<circle cx="116.70" cy="126.06" r="2.2" fill="#1a1ad0"/>
<circle cx="111.50" cy="126.06" r="1.2" fill="#5050ff" stroke="#3434ee" stroke-width="0.3"/>
<circle cx="113.23" cy="126.06" r="1.2" fill="#5050ff" stroke="#3434ee" stroke-width="0.3"/>
<circle cx="114.97" cy="126.06" r="1.2" fill="#5050ff" stroke="#3434ee" stroke-width="0.3"/>
<circle cx="116.70" cy="126.06" r="1.2" fill="#5050ff" stroke="#3434ee" stroke-width="0.3"/>
<circle cx="112.35" cy="133.75" r="2.2" fill="#1a1ad0"/>
<circle cx="114.10" cy="133.75" r="2.2" fill="#1a1ad0"/>
<circle cx="115.85" cy="133.75" r="2.2" fill="#1a1ad0"/>
<circle cx="112.35" cy="133.75" r="1.2" fill="#5050ff" stroke="#3434ee" stroke-width="0.3"/>
<circle cx="114.10" cy="133.75" r="1.2" fill="#5050ff" stroke="#3434ee" stroke-width="0.3"/>
<circle cx="115.85" cy="133.75" r="1.2" fill="#5050ff" stroke="#3434ee" stroke-width="0.3"/>
<circle cx="113.45" cy="141.44" r="2.2" fill="#1a1ad0"/>
<circle cx="114.75" cy="141.44" r="2.2" fill="#1a1ad0"/>
<circle cx="113.45" cy="141.44" r="1.2" fill="#5050ff" stroke="#3434ee" stroke-width="0.3"/>
<circle cx="114.75" cy="141.44" r="1.2" fill="#5050ff" stroke="#3434ee" stroke-width="0.3"/>
<circle cx="114.10" cy="149.13" r="2.2" fill="#1a1ad0"/>
<circle cx="114.10" cy="149.13" r="1.2" fill="#5050ff" stroke="#3434ee" stroke-width="0.3"/>
<circle cx="110.60" cy="156.82" r="2.2" fill="#1a1ad0"/>
<circle cx="112.35" cy="156.82" r="2.2" fill="#1a1ad0"/>
<circle cx="114.10" cy="156.82" r="2.2" fill="#1a1ad0"/>
<circle cx="115.85" cy="156.82" r="2.2" fill="#1a1ad0"/>
<circle cx="117.60" cy="156.82" r="2.2" fill="#1a1ad0"/>
<circle cx="110.60" cy="156.82" r="1.2" fill="#5050ff" stroke="#3434ee" stroke-width="0.3"/>
<circle cx="112.35" cy="156.82" r="1.2" fill="#5050ff" stroke="#3434ee" stroke-width="0.3"/>
<circle cx="114.10" cy="156.82" r="1.2" fill="#5050ff" stroke="#3434ee" stroke-width="0.3"/>
<circle cx="115.85" cy="156.82" r="1.2" fill="#5050ff" stroke="#3434ee" stroke-width="0.3"/>
<circle cx="117.60" cy="156.82" r="1.2" fill="#5050ff" stroke="#3434ee" stroke-width="0.3"/>
<path d="M130.7 83.00V111.45M128.40 83.00h4.6M128.40 111.45h4.6" stroke="#3a3aea" stroke-width="0.9" fill="none"/>
<path d="M125.10 97.44h11.2" stroke="#000" stroke-width="1.3"/>
<circle cx="130.70" cy="64.54" r="2.2" fill="#1a1ad0"/>
<circle cx="130.70" cy="64.54" r="1.2" fill="#5050ff" stroke="#3434ee" stroke-width="0.3"/>
<circle cx="129.85" cy="79.92" r="2.2" fill="#1a1ad0"/>
<circle cx="131.55" cy="79.92" r="2.2" fill="#1a1ad0"/>
<circle cx="129.85" cy="79.92" r="1.2" fill="#5050ff" stroke="#3434ee" stroke-width="0.3"/>
<circle cx="131.55" cy="79.92" r="1.2" fill="#5050ff" stroke="#3434ee" stroke-width="0.3"/>
<circle cx="129.35" cy="87.61" r="2.2" fill="#1a1ad0"/>
<circle cx="132.05" cy="87.61" r="2.2" fill="#1a1ad0"/>
<circle cx="129.35" cy="87.61" r="1.2" fill="#5050ff" stroke="#3434ee" stroke-width="0.3"/>
<circle cx="132.05" cy="87.61" r="1.2" fill="#5050ff" stroke="#3434ee" stroke-width="0.3"/>
<circle cx="129.60" cy="95.30" r="2.2" fill="#1a1ad0"/>
<circle cx="131.80" cy="95.30" r="2.2" fill="#1a1ad0"/>
<circle cx="129.60" cy="95.30" r="1.2" fill="#5050ff" stroke="#3434ee" stroke-width="0.3"/>
<circle cx="131.80" cy="95.30" r="1.2" fill="#5050ff" stroke="#3434ee" stroke-width="0.3"/>
<circle cx="127.25" cy="102.99" r="2.2" fill="#1a1ad0"/>
<circle cx="129.55" cy="102.99" r="2.2" fill="#1a1ad0"/>
<circle cx="131.85" cy="102.99" r="2.2" fill="#1a1ad0"/>
<circle cx="134.15" cy="102.99" r="2.2" fill="#1a1ad0"/>
<circle cx="127.25" cy="102.99" r="1.2" fill="#5050ff" stroke="#3434ee" stroke-width="0.3"/>
<circle cx="129.55" cy="102.99" r="1.2" fill="#5050ff" stroke="#3434ee" stroke-width="0.3"/>
<circle cx="131.85" cy="102.99" r="1.2" fill="#5050ff" stroke="#3434ee" stroke-width="0.3"/>
<circle cx="134.15" cy="102.99" r="1.2" fill="#5050ff" stroke="#3434ee" stroke-width="0.3"/>
<circle cx="129.45" cy="110.68" r="2.2" fill="#1a1ad0"/>
<circle cx="131.95" cy="110.68" r="2.2" fill="#1a1ad0"/>
<circle cx="129.45" cy="110.68" r="1.2" fill="#5050ff" stroke="#3434ee" stroke-width="0.3"/>
<circle cx="131.95" cy="110.68" r="1.2" fill="#5050ff" stroke="#3434ee" stroke-width="0.3"/>
<circle cx="130.70" cy="126.06" r="2.2" fill="#1a1ad0"/>
<circle cx="130.70" cy="126.06" r="1.2" fill="#5050ff" stroke="#3434ee" stroke-width="0.3"/>
<path d="M147.0 88.38V120.83M144.70 88.38h4.6M144.70 120.83h4.6" stroke="#3a3aea" stroke-width="0.9" fill="none"/>
<path d="M141.40 108.12h11.2" stroke="#000" stroke-width="1.3"/>
<circle cx="147.00" cy="79.92" r="2.2" fill="#1a1ad0"/>
<circle cx="147.00" cy="79.92" r="1.2" fill="#5050ff" stroke="#3434ee" stroke-width="0.3"/>
<circle cx="147.00" cy="87.61" r="2.2" fill="#1a1ad0"/>
<circle cx="147.00" cy="87.61" r="1.2" fill="#5050ff" stroke="#3434ee" stroke-width="0.3"/>
<circle cx="145.80" cy="95.30" r="2.2" fill="#1a1ad0"/>
<circle cx="148.20" cy="95.30" r="2.2" fill="#1a1ad0"/>
<circle cx="145.80" cy="95.30" r="1.2" fill="#5050ff" stroke="#3434ee" stroke-width="0.3"/>
<circle cx="148.20" cy="95.30" r="1.2" fill="#5050ff" stroke="#3434ee" stroke-width="0.3"/>
<circle cx="143.65" cy="102.99" r="2.2" fill="#1a1ad0"/>
<circle cx="145.88" cy="102.99" r="2.2" fill="#1a1ad0"/>
<circle cx="148.12" cy="102.99" r="2.2" fill="#1a1ad0"/>
<circle cx="150.35" cy="102.99" r="2.2" fill="#1a1ad0"/>
<circle cx="143.65" cy="102.99" r="1.2" fill="#5050ff" stroke="#3434ee" stroke-width="0.3"/>
<circle cx="145.88" cy="102.99" r="1.2" fill="#5050ff" stroke="#3434ee" stroke-width="0.3"/>
<circle cx="148.12" cy="102.99" r="1.2" fill="#5050ff" stroke="#3434ee" stroke-width="0.3"/>
<circle cx="150.35" cy="102.99" r="1.2" fill="#5050ff" stroke="#3434ee" stroke-width="0.3"/>
<circle cx="143.65" cy="110.68" r="2.2" fill="#1a1ad0"/>
<circle cx="145.88" cy="110.68" r="2.2" fill="#1a1ad0"/>
<circle cx="148.12" cy="110.68" r="2.2" fill="#1a1ad0"/>
<circle cx="150.35" cy="110.68" r="2.2" fill="#1a1ad0"/>
<circle cx="143.65" cy="110.68" r="1.2" fill="#5050ff" stroke="#3434ee" stroke-width="0.3"/>
<circle cx="145.88" cy="110.68" r="1.2" fill="#5050ff" stroke="#3434ee" stroke-width="0.3"/>
<circle cx="148.12" cy="110.68" r="1.2" fill="#5050ff" stroke="#3434ee" stroke-width="0.3"/>
<circle cx="150.35" cy="110.68" r="1.2" fill="#5050ff" stroke="#3434ee" stroke-width="0.3"/>
<circle cx="144.85" cy="118.37" r="2.2" fill="#1a1ad0"/>
<circle cx="147.00" cy="118.37" r="2.2" fill="#1a1ad0"/>
<circle cx="149.15" cy="118.37" r="2.2" fill="#1a1ad0"/>
<circle cx="144.85" cy="118.37" r="1.2" fill="#5050ff" stroke="#3434ee" stroke-width="0.3"/>
<circle cx="147.00" cy="118.37" r="1.2" fill="#5050ff" stroke="#3434ee" stroke-width="0.3"/>
<circle cx="149.15" cy="118.37" r="1.2" fill="#5050ff" stroke="#3434ee" stroke-width="0.3"/>
<circle cx="144.40" cy="126.06" r="2.2" fill="#1a1ad0"/>
<circle cx="146.13" cy="126.06" r="2.2" fill="#1a1ad0"/>
<circle cx="147.87" cy="126.06" r="2.2" fill="#1a1ad0"/>
<circle cx="149.60" cy="126.06" r="2.2" fill="#1a1ad0"/>
<circle cx="144.40" cy="126.06" r="1.2" fill="#5050ff" stroke="#3434ee" stroke-width="0.3"/>
<circle cx="146.13" cy="126.06" r="1.2" fill="#5050ff" stroke="#3434ee" stroke-width="0.3"/>
<circle cx="147.87" cy="126.06" r="1.2" fill="#5050ff" stroke="#3434ee" stroke-width="0.3"/>
<circle cx="149.60" cy="126.06" r="1.2" fill="#5050ff" stroke="#3434ee" stroke-width="0.3"/>
<path d="M174.7 130.29V161.82M172.40 130.29h4.6M172.40 161.82h4.6" stroke="#a040d0" stroke-width="0.9" fill="none"/>
<path d="M169.10 146.13h11.2" stroke="#000" stroke-width="1.3"/>
<circle cx="174.70" cy="102.99" r="2.2" fill="#8418b0"/>
<circle cx="174.70" cy="102.99" r="1.2" fill="#bc64ec" stroke="#a040d4" stroke-width="0.3"/>
<circle cx="174.70" cy="118.37" r="2.2" fill="#8418b0"/>
<circle cx="174.70" cy="118.37" r="1.2" fill="#bc64ec" stroke="#a040d4" stroke-width="0.3"/>
<circle cx="174.70" cy="133.75" r="2.2" fill="#8418b0"/>
<circle cx="174.70" cy="133.75" r="1.2" fill="#bc64ec" stroke="#a040d4" stroke-width="0.3"/>
<circle cx="174.70" cy="141.44" r="2.2" fill="#8418b0"/>
<circle cx="174.70" cy="141.44" r="1.2" fill="#bc64ec" stroke="#a040d4" stroke-width="0.3"/>
<circle cx="174.70" cy="149.13" r="2.2" fill="#8418b0"/>
<circle cx="174.70" cy="149.13" r="1.2" fill="#bc64ec" stroke="#a040d4" stroke-width="0.3"/>
<circle cx="170.95" cy="156.82" r="2.2" fill="#8418b0"/>
<circle cx="172.82" cy="156.82" r="2.2" fill="#8418b0"/>
<circle cx="174.70" cy="156.82" r="2.2" fill="#8418b0"/>
<circle cx="176.57" cy="156.82" r="2.2" fill="#8418b0"/>
<circle cx="178.45" cy="156.82" r="2.2" fill="#8418b0"/>
<circle cx="170.95" cy="156.82" r="1.2" fill="#bc64ec" stroke="#a040d4" stroke-width="0.3"/>
<circle cx="172.82" cy="156.82" r="1.2" fill="#bc64ec" stroke="#a040d4" stroke-width="0.3"/>
<circle cx="174.70" cy="156.82" r="1.2" fill="#bc64ec" stroke="#a040d4" stroke-width="0.3"/>
<circle cx="176.57" cy="156.82" r="1.2" fill="#bc64ec" stroke="#a040d4" stroke-width="0.3"/>
<circle cx="178.45" cy="156.82" r="1.2" fill="#bc64ec" stroke="#a040d4" stroke-width="0.3"/>
<path d="M191.4 108.37V133.75M189.10 108.37h4.6M189.10 133.75h4.6" stroke="#a040d0" stroke-width="0.9" fill="none"/>
<path d="M185.80 122.21h11.2" stroke="#000" stroke-width="1.3"/>
<circle cx="191.40" cy="102.99" r="2.2" fill="#8418b0"/>
<circle cx="191.40" cy="102.99" r="1.2" fill="#bc64ec" stroke="#a040d4" stroke-width="0.3"/>
<circle cx="191.40" cy="110.68" r="2.2" fill="#8418b0"/>
<circle cx="191.40" cy="110.68" r="1.2" fill="#bc64ec" stroke="#a040d4" stroke-width="0.3"/>
<circle cx="191.40" cy="118.37" r="2.2" fill="#8418b0"/>
<circle cx="191.40" cy="118.37" r="1.2" fill="#bc64ec" stroke="#a040d4" stroke-width="0.3"/>
<circle cx="188.05" cy="126.06" r="2.2" fill="#8418b0"/>
<circle cx="190.28" cy="126.06" r="2.2" fill="#8418b0"/>
<circle cx="192.52" cy="126.06" r="2.2" fill="#8418b0"/>
<circle cx="194.75" cy="126.06" r="2.2" fill="#8418b0"/>
<circle cx="188.05" cy="126.06" r="1.2" fill="#bc64ec" stroke="#a040d4" stroke-width="0.3"/>
<circle cx="190.28" cy="126.06" r="1.2" fill="#bc64ec" stroke="#a040d4" stroke-width="0.3"/>
<circle cx="192.52" cy="126.06" r="1.2" fill="#bc64ec" stroke="#a040d4" stroke-width="0.3"/>
<circle cx="194.75" cy="126.06" r="1.2" fill="#bc64ec" stroke="#a040d4" stroke-width="0.3"/>
<circle cx="190.70" cy="133.75" r="2.2" fill="#8418b0"/>
<circle cx="192.10" cy="133.75" r="2.2" fill="#8418b0"/>
<circle cx="190.70" cy="133.75" r="1.2" fill="#bc64ec" stroke="#a040d4" stroke-width="0.3"/>
<circle cx="192.10" cy="133.75" r="1.2" fill="#bc64ec" stroke="#a040d4" stroke-width="0.3"/>
</g>
<g transform="matrix(0.964 0 0 0.9714 431.1 6.42)">
<path d="M42 56.5V172.2M37.2 172.2H203.2" stroke="#111" stroke-width="1.4" fill="none"/>
<path d="M37.2 172.20H42" stroke="#111" stroke-width="1.2"/>
<path d="M37.2 133.75H42" stroke="#111" stroke-width="1.2"/>
<path d="M37.2 95.30H42" stroke="#111" stroke-width="1.2"/>
<path d="M37.2 56.85H42" stroke="#111" stroke-width="1.2"/>
<path d="M53.2 172.2V177.2" stroke="#111" stroke-width="1.2"/>
<path d="M69.7 172.2V177.2" stroke="#111" stroke-width="1.2"/>
<path d="M86.4 172.2V177.2" stroke="#111" stroke-width="1.2"/>
<path d="M114.1 172.2V177.2" stroke="#111" stroke-width="1.2"/>
<path d="M130.7 172.2V177.2" stroke="#111" stroke-width="1.2"/>
<path d="M147.0 172.2V177.2" stroke="#111" stroke-width="1.2"/>
<path d="M174.7 172.2V177.2" stroke="#111" stroke-width="1.2"/>
<path d="M191.4 172.2V177.2" stroke="#111" stroke-width="1.2"/>
<text transform="translate(35.60 59.40) scale(1 1.1)" font-size="7.9" text-anchor="end">32768</text>
<text transform="translate(35.60 97.85) scale(1 1.1)" font-size="7.9" text-anchor="end">1024</text>
<text transform="translate(35.60 136.30) scale(1 1.1)" font-size="7.9" text-anchor="end">32</text>
<text transform="translate(35.60 174.75) scale(1 1.1)" font-size="7.9" text-anchor="end">1</text>
<text transform="translate(8.6 115.1) rotate(-90)" font-size="9.9" text-anchor="middle">nAb titer</text>
<text transform="translate(70.20 170.70) scale(1 1.06)" font-size="7.0" text-anchor="middle">N = 58</text>
<text transform="translate(130.20 170.70) scale(1 1.06)" font-size="7.0" text-anchor="middle">N = 18</text>
<text transform="translate(182.80 170.70) scale(1 1.06)" font-size="7.0" text-anchor="middle">N = 18</text>
<text transform="translate(53.20 185.70) scale(1 1.08)" font-size="7.6" text-anchor="middle">d1</text>
<text transform="translate(69.70 185.70) scale(1 1.08)" font-size="7.6" text-anchor="middle">d14</text>
<text transform="translate(86.40 185.70) scale(1 1.08)" font-size="7.6" text-anchor="middle">d28</text>
<text transform="translate(114.10 185.70) scale(1 1.08)" font-size="7.6" text-anchor="middle">d1</text>
<text transform="translate(130.70 185.70) scale(1 1.08)" font-size="7.6" text-anchor="middle">d14</text>
<text transform="translate(147.00 185.70) scale(1 1.08)" font-size="7.6" text-anchor="middle">d28</text>
<text transform="translate(174.70 185.70) scale(1 1.08)" font-size="7.6" text-anchor="middle">d1</text>
<text transform="translate(191.40 185.70) scale(1 1.08)" font-size="7.6" text-anchor="middle">d21</text>
<path d="M55 189H88.1M114.4 189H145.8M167.2 189H200" stroke="#222" stroke-width="1.3"/>
<text transform="translate(69.50 197.90) scale(1 1.08)" font-size="7.85" text-anchor="middle">ARVAC CG</text>
<text transform="translate(69.40 207.90) scale(1 1.08)" font-size="7.85" text-anchor="middle">25 µg</text>
<text transform="translate(131.70 197.90) scale(1 1.08)" font-size="7.85" text-anchor="middle">ARVAC CG</text>
<text transform="translate(131.90 207.90) scale(1 1.08)" font-size="7.85" text-anchor="middle">50 µg</text>
<text transform="translate(185.10 199.80) scale(1 1.08)" font-size="7.6" text-anchor="middle">BNT162b2</text>
<path d="M53.2 115.29V146.82M50.90 115.29h4.6M50.90 146.82h4.6" stroke="#3a9cc8" stroke-width="0.9" fill="none"/>
<path d="M47.60 131.63h11.2" stroke="#000" stroke-width="1.3"/>
<circle cx="53.20" cy="102.99" r="2.2" fill="#127c9e"/>
<circle cx="53.20" cy="102.99" r="1.2" fill="#58aaff" stroke="#3a9ae0" stroke-width="0.3"/>
<circle cx="53.20" cy="110.68" r="2.2" fill="#127c9e"/>
<circle cx="53.20" cy="110.68" r="1.2" fill="#58aaff" stroke="#3a9ae0" stroke-width="0.3"/>
<circle cx="50.05" cy="118.37" r="2.2" fill="#127c9e"/>
<circle cx="52.15" cy="118.37" r="2.2" fill="#127c9e"/>
<circle cx="54.25" cy="118.37" r="2.2" fill="#127c9e"/>
<circle cx="56.35" cy="118.37" r="2.2" fill="#127c9e"/>
<circle cx="50.05" cy="118.37" r="1.2" fill="#58aaff" stroke="#3a9ae0" stroke-width="0.3"/>
<circle cx="52.15" cy="118.37" r="1.2" fill="#58aaff" stroke="#3a9ae0" stroke-width="0.3"/>
<circle cx="54.25" cy="118.37" r="1.2" fill="#58aaff" stroke="#3a9ae0" stroke-width="0.3"/>
<circle cx="56.35" cy="118.37" r="1.2" fill="#58aaff" stroke="#3a9ae0" stroke-width="0.3"/>
<circle cx="50.85" cy="126.06" r="2.2" fill="#127c9e"/>
<circle cx="53.20" cy="126.06" r="2.2" fill="#127c9e"/>
<circle cx="55.55" cy="126.06" r="2.2" fill="#127c9e"/>
<circle cx="50.85" cy="126.06" r="1.2" fill="#58aaff" stroke="#3a9ae0" stroke-width="0.3"/>
<circle cx="53.20" cy="126.06" r="1.2" fill="#58aaff" stroke="#3a9ae0" stroke-width="0.3"/>
<circle cx="55.55" cy="126.06" r="1.2" fill="#58aaff" stroke="#3a9ae0" stroke-width="0.3"/>
<circle cx="53.20" cy="133.75" r="2.2" fill="#127c9e"/>
<circle cx="53.20" cy="133.75" r="1.2" fill="#58aaff" stroke="#3a9ae0" stroke-width="0.3"/>
<circle cx="52.35" cy="141.44" r="2.2" fill="#127c9e"/>
<circle cx="54.05" cy="141.44" r="2.2" fill="#127c9e"/>
<circle cx="52.35" cy="141.44" r="1.2" fill="#58aaff" stroke="#3a9ae0" stroke-width="0.3"/>
<circle cx="54.05" cy="141.44" r="1.2" fill="#58aaff" stroke="#3a9ae0" stroke-width="0.3"/>
<circle cx="53.20" cy="149.13" r="2.2" fill="#127c9e"/>
<circle cx="53.20" cy="149.13" r="1.2" fill="#58aaff" stroke="#3a9ae0" stroke-width="0.3"/>
<circle cx="51.20" cy="156.82" r="2.2" fill="#127c9e"/>
<circle cx="53.20" cy="156.82" r="2.2" fill="#127c9e"/>
<circle cx="55.20" cy="156.82" r="2.2" fill="#127c9e"/>
<circle cx="51.20" cy="156.82" r="1.2" fill="#58aaff" stroke="#3a9ae0" stroke-width="0.3"/>
<circle cx="53.20" cy="156.82" r="1.2" fill="#58aaff" stroke="#3a9ae0" stroke-width="0.3"/>
<circle cx="55.20" cy="156.82" r="1.2" fill="#58aaff" stroke="#3a9ae0" stroke-width="0.3"/>
<path d="M69.7 86.07V120.68M67.40 86.07h4.6M67.40 120.68h4.6" stroke="#3a9cc8" stroke-width="0.9" fill="none"/>
<path d="M64.10 104.45h11.2" stroke="#000" stroke-width="1.3"/>
<circle cx="69.70" cy="64.54" r="2.2" fill="#127c9e"/>
<circle cx="69.70" cy="64.54" r="1.2" fill="#58aaff" stroke="#3a9ae0" stroke-width="0.3"/>
<circle cx="69.70" cy="72.23" r="2.2" fill="#127c9e"/>
<circle cx="69.70" cy="72.23" r="1.2" fill="#58aaff" stroke="#3a9ae0" stroke-width="0.3"/>
<circle cx="69.70" cy="79.92" r="2.2" fill="#127c9e"/>
<circle cx="69.70" cy="79.92" r="1.2" fill="#58aaff" stroke="#3a9ae0" stroke-width="0.3"/>
<circle cx="69.70" cy="87.61" r="2.2" fill="#127c9e"/>
<circle cx="69.70" cy="87.61" r="1.2" fill="#58aaff" stroke="#3a9ae0" stroke-width="0.3"/>
<circle cx="66.85" cy="95.30" r="2.2" fill="#127c9e"/>
<circle cx="68.75" cy="95.30" r="2.2" fill="#127c9e"/>
<circle cx="70.65" cy="95.30" r="2.2" fill="#127c9e"/>
<circle cx="72.55" cy="95.30" r="2.2" fill="#127c9e"/>
<circle cx="66.85" cy="95.30" r="1.2" fill="#58aaff" stroke="#3a9ae0" stroke-width="0.3"/>
<circle cx="68.75" cy="95.30" r="1.2" fill="#58aaff" stroke="#3a9ae0" stroke-width="0.3"/>
<circle cx="70.65" cy="95.30" r="1.2" fill="#58aaff" stroke="#3a9ae0" stroke-width="0.3"/>
<circle cx="72.55" cy="95.30" r="1.2" fill="#58aaff" stroke="#3a9ae0" stroke-width="0.3"/>
<circle cx="66.85" cy="102.99" r="2.2" fill="#127c9e"/>
<circle cx="68.75" cy="102.99" r="2.2" fill="#127c9e"/>
<circle cx="70.65" cy="102.99" r="2.2" fill="#127c9e"/>
<circle cx="72.55" cy="102.99" r="2.2" fill="#127c9e"/>
<circle cx="66.85" cy="102.99" r="1.2" fill="#58aaff" stroke="#3a9ae0" stroke-width="0.3"/>
<circle cx="68.75" cy="102.99" r="1.2" fill="#58aaff" stroke="#3a9ae0" stroke-width="0.3"/>
<circle cx="70.65" cy="102.99" r="1.2" fill="#58aaff" stroke="#3a9ae0" stroke-width="0.3"/>
<circle cx="72.55" cy="102.99" r="1.2" fill="#58aaff" stroke="#3a9ae0" stroke-width="0.3"/>
<circle cx="67.35" cy="110.68" r="2.2" fill="#127c9e"/>
<circle cx="69.70" cy="110.68" r="2.2" fill="#127c9e"/>
<circle cx="72.05" cy="110.68" r="2.2" fill="#127c9e"/>
<circle cx="67.35" cy="110.68" r="1.2" fill="#58aaff" stroke="#3a9ae0" stroke-width="0.3"/>
<circle cx="69.70" cy="110.68" r="1.2" fill="#58aaff" stroke="#3a9ae0" stroke-width="0.3"/>
<circle cx="72.05" cy="110.68" r="1.2" fill="#58aaff" stroke="#3a9ae0" stroke-width="0.3"/>
<circle cx="69.70" cy="118.37" r="2.2" fill="#127c9e"/>
<circle cx="69.70" cy="118.37" r="1.2" fill="#58aaff" stroke="#3a9ae0" stroke-width="0.3"/>
<circle cx="69.70" cy="126.06" r="2.2" fill="#127c9e"/>
<circle cx="69.70" cy="126.06" r="1.2" fill="#58aaff" stroke="#3a9ae0" stroke-width="0.3"/>
<circle cx="69.70" cy="133.75" r="2.2" fill="#127c9e"/>
<circle cx="69.70" cy="133.75" r="1.2" fill="#58aaff" stroke="#3a9ae0" stroke-width="0.3"/>
<circle cx="69.70" cy="141.44" r="2.2" fill="#127c9e"/>
<circle cx="69.70" cy="141.44" r="1.2" fill="#58aaff" stroke="#3a9ae0" stroke-width="0.3"/>
<circle cx="69.70" cy="149.13" r="2.2" fill="#127c9e"/>
<circle cx="69.70" cy="149.13" r="1.2" fill="#58aaff" stroke="#3a9ae0" stroke-width="0.3"/>
<circle cx="69.70" cy="156.82" r="2.2" fill="#127c9e"/>
<circle cx="69.70" cy="156.82" r="1.2" fill="#58aaff" stroke="#3a9ae0" stroke-width="0.3"/>
<path d="M86.4 85.94V119.77M84.10 85.94h4.6M84.10 119.77h4.6" stroke="#3a9cc8" stroke-width="0.9" fill="none"/>
<path d="M80.80 102.86h11.2" stroke="#000" stroke-width="1.3"/>
<circle cx="86.40" cy="72.23" r="2.2" fill="#127c9e"/>
<circle cx="86.40" cy="72.23" r="1.2" fill="#58aaff" stroke="#3a9ae0" stroke-width="0.3"/>
<circle cx="86.40" cy="79.92" r="2.2" fill="#127c9e"/>
<circle cx="86.40" cy="79.92" r="1.2" fill="#58aaff" stroke="#3a9ae0" stroke-width="0.3"/>
<circle cx="85.50" cy="87.61" r="2.2" fill="#127c9e"/>
<circle cx="87.30" cy="87.61" r="2.2" fill="#127c9e"/>
<circle cx="85.50" cy="87.61" r="1.2" fill="#58aaff" stroke="#3a9ae0" stroke-width="0.3"/>
<circle cx="87.30" cy="87.61" r="1.2" fill="#58aaff" stroke="#3a9ae0" stroke-width="0.3"/>
<circle cx="84.05" cy="95.30" r="2.2" fill="#127c9e"/>
<circle cx="86.40" cy="95.30" r="2.2" fill="#127c9e"/>
<circle cx="88.75" cy="95.30" r="2.2" fill="#127c9e"/>
<circle cx="84.05" cy="95.30" r="1.2" fill="#58aaff" stroke="#3a9ae0" stroke-width="0.3"/>
<circle cx="86.40" cy="95.30" r="1.2" fill="#58aaff" stroke="#3a9ae0" stroke-width="0.3"/>
<circle cx="88.75" cy="95.30" r="1.2" fill="#58aaff" stroke="#3a9ae0" stroke-width="0.3"/>
<circle cx="83.35" cy="102.99" r="2.2" fill="#127c9e"/>
<circle cx="85.38" cy="102.99" r="2.2" fill="#127c9e"/>
<circle cx="87.42" cy="102.99" r="2.2" fill="#127c9e"/>
<circle cx="89.45" cy="102.99" r="2.2" fill="#127c9e"/>
<circle cx="83.35" cy="102.99" r="1.2" fill="#58aaff" stroke="#3a9ae0" stroke-width="0.3"/>
<circle cx="85.38" cy="102.99" r="1.2" fill="#58aaff" stroke="#3a9ae0" stroke-width="0.3"/>
<circle cx="87.42" cy="102.99" r="1.2" fill="#58aaff" stroke="#3a9ae0" stroke-width="0.3"/>
<circle cx="89.45" cy="102.99" r="1.2" fill="#58aaff" stroke="#3a9ae0" stroke-width="0.3"/>
<circle cx="84.65" cy="110.68" r="2.2" fill="#127c9e"/>
<circle cx="86.40" cy="110.68" r="2.2" fill="#127c9e"/>
<circle cx="88.15" cy="110.68" r="2.2" fill="#127c9e"/>
<circle cx="84.65" cy="110.68" r="1.2" fill="#58aaff" stroke="#3a9ae0" stroke-width="0.3"/>
<circle cx="86.40" cy="110.68" r="1.2" fill="#58aaff" stroke="#3a9ae0" stroke-width="0.3"/>
<circle cx="88.15" cy="110.68" r="1.2" fill="#58aaff" stroke="#3a9ae0" stroke-width="0.3"/>
<circle cx="86.40" cy="118.37" r="2.2" fill="#127c9e"/>
<circle cx="86.40" cy="118.37" r="1.2" fill="#58aaff" stroke="#3a9ae0" stroke-width="0.3"/>
<circle cx="86.40" cy="126.06" r="2.2" fill="#127c9e"/>
<circle cx="86.40" cy="126.06" r="1.2" fill="#58aaff" stroke="#3a9ae0" stroke-width="0.3"/>
<circle cx="86.40" cy="133.75" r="2.2" fill="#127c9e"/>
<circle cx="86.40" cy="133.75" r="1.2" fill="#58aaff" stroke="#3a9ae0" stroke-width="0.3"/>
<circle cx="86.40" cy="141.44" r="2.2" fill="#127c9e"/>
<circle cx="86.40" cy="141.44" r="1.2" fill="#58aaff" stroke="#3a9ae0" stroke-width="0.3"/>
<circle cx="86.40" cy="149.13" r="2.2" fill="#127c9e"/>
<circle cx="86.40" cy="149.13" r="1.2" fill="#58aaff" stroke="#3a9ae0" stroke-width="0.3"/>
<path d="M114.1 117.37V153.51M111.80 117.37h4.6M111.80 153.51h4.6" stroke="#3a3aea" stroke-width="0.9" fill="none"/>
<path d="M108.50 137.17h11.2" stroke="#000" stroke-width="1.3"/>
<circle cx="114.10" cy="102.99" r="2.2" fill="#1a1ad0"/>
<circle cx="114.10" cy="102.99" r="1.2" fill="#5050ff" stroke="#3434ee" stroke-width="0.3"/>
<circle cx="114.10" cy="118.37" r="2.2" fill="#1a1ad0"/>
<circle cx="114.10" cy="118.37" r="1.2" fill="#5050ff" stroke="#3434ee" stroke-width="0.3"/>
<circle cx="111.50" cy="126.06" r="2.2" fill="#1a1ad0"/>
<circle cx="113.23" cy="126.06" r="2.2" fill="#1a1ad0"/>
<circle cx="114.97" cy="126.06" r="2.2" fill="#1a1ad0"/>
<circle cx="116.70" cy="126.06" r="2.2" fill="#1a1ad0"/>
<circle cx="111.50" cy="126.06" r="1.2" fill="#5050ff" stroke="#3434ee" stroke-width="0.3"/>
<circle cx="113.23" cy="126.06" r="1.2" fill="#5050ff" stroke="#3434ee" stroke-width="0.3"/>
<circle cx="114.97" cy="126.06" r="1.2" fill="#5050ff" stroke="#3434ee" stroke-width="0.3"/>
<circle cx="116.70" cy="126.06" r="1.2" fill="#5050ff" stroke="#3434ee" stroke-width="0.3"/>
<circle cx="114.10" cy="133.75" r="2.2" fill="#1a1ad0"/>
<circle cx="114.10" cy="133.75" r="1.2" fill="#5050ff" stroke="#3434ee" stroke-width="0.3"/>
<circle cx="110.45" cy="141.44" r="2.2" fill="#1a1ad0"/>
<circle cx="112.27" cy="141.44" r="2.2" fill="#1a1ad0"/>
<circle cx="114.10" cy="141.44" r="2.2" fill="#1a1ad0"/>
<circle cx="115.92" cy="141.44" r="2.2" fill="#1a1ad0"/>
<circle cx="117.75" cy="141.44" r="2.2" fill="#1a1ad0"/>
<circle cx="110.45" cy="141.44" r="1.2" fill="#5050ff" stroke="#3434ee" stroke-width="0.3"/>
<circle cx="112.27" cy="141.44" r="1.2" fill="#5050ff" stroke="#3434ee" stroke-width="0.3"/>
<circle cx="114.10" cy="141.44" r="1.2" fill="#5050ff" stroke="#3434ee" stroke-width="0.3"/>
<circle cx="115.92" cy="141.44" r="1.2" fill="#5050ff" stroke="#3434ee" stroke-width="0.3"/>
<circle cx="117.75" cy="141.44" r="1.2" fill="#5050ff" stroke="#3434ee" stroke-width="0.3"/>
<circle cx="110.45" cy="156.82" r="2.2" fill="#1a1ad0"/>
<circle cx="112.27" cy="156.82" r="2.2" fill="#1a1ad0"/>
<circle cx="114.10" cy="156.82" r="2.2" fill="#1a1ad0"/>
<circle cx="115.92" cy="156.82" r="2.2" fill="#1a1ad0"/>
<circle cx="117.75" cy="156.82" r="2.2" fill="#1a1ad0"/>
<circle cx="110.45" cy="156.82" r="1.2" fill="#5050ff" stroke="#3434ee" stroke-width="0.3"/>
<circle cx="112.27" cy="156.82" r="1.2" fill="#5050ff" stroke="#3434ee" stroke-width="0.3"/>
<circle cx="114.10" cy="156.82" r="1.2" fill="#5050ff" stroke="#3434ee" stroke-width="0.3"/>
<circle cx="115.92" cy="156.82" r="1.2" fill="#5050ff" stroke="#3434ee" stroke-width="0.3"/>
<circle cx="117.75" cy="156.82" r="1.2" fill="#5050ff" stroke="#3434ee" stroke-width="0.3"/>
<path d="M130.7 87.35V121.19M128.40 87.35h4.6M128.40 121.19h4.6" stroke="#3a3aea" stroke-width="0.9" fill="none"/>
<path d="M125.10 104.27h11.2" stroke="#000" stroke-width="1.3"/>
<circle cx="130.70" cy="72.23" r="2.2" fill="#1a1ad0"/>
<circle cx="130.70" cy="72.23" r="1.2" fill="#5050ff" stroke="#3434ee" stroke-width="0.3"/>
<circle cx="129.60" cy="87.61" r="2.2" fill="#1a1ad0"/>
<circle cx="131.80" cy="87.61" r="2.2" fill="#1a1ad0"/>
<circle cx="129.60" cy="87.61" r="1.2" fill="#5050ff" stroke="#3434ee" stroke-width="0.3"/>
<circle cx="131.80" cy="87.61" r="1.2" fill="#5050ff" stroke="#3434ee" stroke-width="0.3"/>
<circle cx="130.70" cy="95.30" r="2.2" fill="#1a1ad0"/>
<circle cx="130.70" cy="95.30" r="1.2" fill="#5050ff" stroke="#3434ee" stroke-width="0.3"/>
<circle cx="129.60" cy="102.99" r="2.2" fill="#1a1ad0"/>
<circle cx="131.80" cy="102.99" r="2.2" fill="#1a1ad0"/>
<circle cx="129.60" cy="102.99" r="1.2" fill="#5050ff" stroke="#3434ee" stroke-width="0.3"/>
<circle cx="131.80" cy="102.99" r="1.2" fill="#5050ff" stroke="#3434ee" stroke-width="0.3"/>
<circle cx="127.15" cy="110.68" r="2.2" fill="#1a1ad0"/>
<circle cx="128.92" cy="110.68" r="2.2" fill="#1a1ad0"/>
<circle cx="130.70" cy="110.68" r="2.2" fill="#1a1ad0"/>
<circle cx="132.47" cy="110.68" r="2.2" fill="#1a1ad0"/>
<circle cx="134.25" cy="110.68" r="2.2" fill="#1a1ad0"/>
<circle cx="127.15" cy="110.68" r="1.2" fill="#5050ff" stroke="#3434ee" stroke-width="0.3"/>
<circle cx="128.92" cy="110.68" r="1.2" fill="#5050ff" stroke="#3434ee" stroke-width="0.3"/>
<circle cx="130.70" cy="110.68" r="1.2" fill="#5050ff" stroke="#3434ee" stroke-width="0.3"/>
<circle cx="132.47" cy="110.68" r="1.2" fill="#5050ff" stroke="#3434ee" stroke-width="0.3"/>
<circle cx="134.25" cy="110.68" r="1.2" fill="#5050ff" stroke="#3434ee" stroke-width="0.3"/>
<circle cx="130.70" cy="118.37" r="2.2" fill="#1a1ad0"/>
<circle cx="130.70" cy="118.37" r="1.2" fill="#5050ff" stroke="#3434ee" stroke-width="0.3"/>
<circle cx="130.70" cy="126.06" r="2.2" fill="#1a1ad0"/>
<circle cx="130.70" cy="126.06" r="1.2" fill="#5050ff" stroke="#3434ee" stroke-width="0.3"/>
<circle cx="130.70" cy="133.75" r="2.2" fill="#1a1ad0"/>
<circle cx="130.70" cy="133.75" r="1.2" fill="#5050ff" stroke="#3434ee" stroke-width="0.3"/>
<path d="M147.0 86.07V116.22M144.70 86.07h4.6M144.70 116.22h4.6" stroke="#3a3aea" stroke-width="0.9" fill="none"/>
<path d="M141.40 103.42h11.2" stroke="#000" stroke-width="1.3"/>
<circle cx="147.00" cy="72.23" r="2.2" fill="#1a1ad0"/>
<circle cx="147.00" cy="72.23" r="1.2" fill="#5050ff" stroke="#3434ee" stroke-width="0.3"/>
<circle cx="147.00" cy="87.61" r="2.2" fill="#1a1ad0"/>
<circle cx="147.00" cy="87.61" r="1.2" fill="#5050ff" stroke="#3434ee" stroke-width="0.3"/>
<circle cx="144.65" cy="95.30" r="2.2" fill="#1a1ad0"/>
<circle cx="147.00" cy="95.30" r="2.2" fill="#1a1ad0"/>
<circle cx="149.35" cy="95.30" r="2.2" fill="#1a1ad0"/>
<circle cx="144.65" cy="95.30" r="1.2" fill="#5050ff" stroke="#3434ee" stroke-width="0.3"/>
<circle cx="147.00" cy="95.30" r="1.2" fill="#5050ff" stroke="#3434ee" stroke-width="0.3"/>
<circle cx="149.35" cy="95.30" r="1.2" fill="#5050ff" stroke="#3434ee" stroke-width="0.3"/>
<circle cx="145.90" cy="102.99" r="2.2" fill="#1a1ad0"/>
<circle cx="148.10" cy="102.99" r="2.2" fill="#1a1ad0"/>
<circle cx="145.90" cy="102.99" r="1.2" fill="#5050ff" stroke="#3434ee" stroke-width="0.3"/>
<circle cx="148.10" cy="102.99" r="1.2" fill="#5050ff" stroke="#3434ee" stroke-width="0.3"/>
<circle cx="143.65" cy="110.68" r="2.2" fill="#1a1ad0"/>
<circle cx="145.88" cy="110.68" r="2.2" fill="#1a1ad0"/>
<circle cx="148.12" cy="110.68" r="2.2" fill="#1a1ad0"/>
<circle cx="150.35" cy="110.68" r="2.2" fill="#1a1ad0"/>
<circle cx="143.65" cy="110.68" r="1.2" fill="#5050ff" stroke="#3434ee" stroke-width="0.3"/>
<circle cx="145.88" cy="110.68" r="1.2" fill="#5050ff" stroke="#3434ee" stroke-width="0.3"/>
<circle cx="148.12" cy="110.68" r="1.2" fill="#5050ff" stroke="#3434ee" stroke-width="0.3"/>
<circle cx="150.35" cy="110.68" r="1.2" fill="#5050ff" stroke="#3434ee" stroke-width="0.3"/>
<circle cx="146.30" cy="126.06" r="2.2" fill="#1a1ad0"/>
<circle cx="147.70" cy="126.06" r="2.2" fill="#1a1ad0"/>
<circle cx="146.30" cy="126.06" r="1.2" fill="#5050ff" stroke="#3434ee" stroke-width="0.3"/>
<circle cx="147.70" cy="126.06" r="1.2" fill="#5050ff" stroke="#3434ee" stroke-width="0.3"/>
<path d="M174.7 130.67V161.59M172.40 130.67h4.6M172.40 161.59h4.6" stroke="#a040d0" stroke-width="0.9" fill="none"/>
<path d="M169.10 146.13h11.2" stroke="#000" stroke-width="1.3"/>
<circle cx="174.70" cy="110.68" r="2.2" fill="#8418b0"/>
<circle cx="174.70" cy="110.68" r="1.2" fill="#bc64ec" stroke="#a040d4" stroke-width="0.3"/>
<circle cx="174.70" cy="118.37" r="2.2" fill="#8418b0"/>
<circle cx="174.70" cy="118.37" r="1.2" fill="#bc64ec" stroke="#a040d4" stroke-width="0.3"/>
<circle cx="173.85" cy="141.44" r="2.2" fill="#8418b0"/>
<circle cx="175.55" cy="141.44" r="2.2" fill="#8418b0"/>
<circle cx="173.85" cy="141.44" r="1.2" fill="#bc64ec" stroke="#a040d4" stroke-width="0.3"/>
<circle cx="175.55" cy="141.44" r="1.2" fill="#bc64ec" stroke="#a040d4" stroke-width="0.3"/>
<circle cx="174.70" cy="149.13" r="2.2" fill="#8418b0"/>
<circle cx="174.70" cy="149.13" r="1.2" fill="#bc64ec" stroke="#a040d4" stroke-width="0.3"/>
<circle cx="171.15" cy="156.82" r="2.2" fill="#8418b0"/>
<circle cx="172.92" cy="156.82" r="2.2" fill="#8418b0"/>
<circle cx="174.70" cy="156.82" r="2.2" fill="#8418b0"/>
<circle cx="176.47" cy="156.82" r="2.2" fill="#8418b0"/>
<circle cx="178.25" cy="156.82" r="2.2" fill="#8418b0"/>
<circle cx="171.15" cy="156.82" r="1.2" fill="#bc64ec" stroke="#a040d4" stroke-width="0.3"/>
<circle cx="172.92" cy="156.82" r="1.2" fill="#bc64ec" stroke="#a040d4" stroke-width="0.3"/>
<circle cx="174.70" cy="156.82" r="1.2" fill="#bc64ec" stroke="#a040d4" stroke-width="0.3"/>
<circle cx="176.47" cy="156.82" r="1.2" fill="#bc64ec" stroke="#a040d4" stroke-width="0.3"/>
<circle cx="178.25" cy="156.82" r="1.2" fill="#bc64ec" stroke="#a040d4" stroke-width="0.3"/>
<path d="M191.4 102.99V131.06M189.10 102.99h4.6M189.10 131.06h4.6" stroke="#a040d0" stroke-width="0.9" fill="none"/>
<path d="M185.80 117.52h11.2" stroke="#000" stroke-width="1.3"/>
<circle cx="191.40" cy="87.61" r="2.2" fill="#8418b0"/>
<circle cx="191.40" cy="87.61" r="1.2" fill="#bc64ec" stroke="#a040d4" stroke-width="0.3"/>
<circle cx="190.40" cy="102.99" r="2.2" fill="#8418b0"/>
<circle cx="192.40" cy="102.99" r="2.2" fill="#8418b0"/>
<circle cx="190.40" cy="102.99" r="1.2" fill="#bc64ec" stroke="#a040d4" stroke-width="0.3"/>
<circle cx="192.40" cy="102.99" r="1.2" fill="#bc64ec" stroke="#a040d4" stroke-width="0.3"/>
<circle cx="190.40" cy="110.68" r="2.2" fill="#8418b0"/>
<circle cx="192.40" cy="110.68" r="2.2" fill="#8418b0"/>
<circle cx="190.40" cy="110.68" r="1.2" fill="#bc64ec" stroke="#a040d4" stroke-width="0.3"/>
<circle cx="192.40" cy="110.68" r="1.2" fill="#bc64ec" stroke="#a040d4" stroke-width="0.3"/>
<circle cx="188.10" cy="118.37" r="2.2" fill="#8418b0"/>
<circle cx="190.30" cy="118.37" r="2.2" fill="#8418b0"/>
<circle cx="192.50" cy="118.37" r="2.2" fill="#8418b0"/>
<circle cx="194.70" cy="118.37" r="2.2" fill="#8418b0"/>
<circle cx="188.10" cy="118.37" r="1.2" fill="#bc64ec" stroke="#a040d4" stroke-width="0.3"/>
<circle cx="190.30" cy="118.37" r="1.2" fill="#bc64ec" stroke="#a040d4" stroke-width="0.3"/>
<circle cx="192.50" cy="118.37" r="1.2" fill="#bc64ec" stroke="#a040d4" stroke-width="0.3"/>
<circle cx="194.70" cy="118.37" r="1.2" fill="#bc64ec" stroke="#a040d4" stroke-width="0.3"/>
<circle cx="190.40" cy="126.06" r="2.2" fill="#8418b0"/>
<circle cx="192.40" cy="126.06" r="2.2" fill="#8418b0"/>
<circle cx="190.40" cy="126.06" r="1.2" fill="#bc64ec" stroke="#a040d4" stroke-width="0.3"/>
<circle cx="192.40" cy="126.06" r="1.2" fill="#bc64ec" stroke="#a040d4" stroke-width="0.3"/>
<circle cx="190.20" cy="141.44" r="2.2" fill="#8418b0"/>
<circle cx="192.60" cy="141.44" r="2.2" fill="#8418b0"/>
<circle cx="190.20" cy="141.44" r="1.2" fill="#bc64ec" stroke="#a040d4" stroke-width="0.3"/>
<circle cx="192.60" cy="141.44" r="1.2" fill="#bc64ec" stroke="#a040d4" stroke-width="0.3"/>
</g>
<g transform="translate(0 213)">
<path d="M42 56.5V172.2M37.2 172.2H203.2" stroke="#111" stroke-width="1.4" fill="none"/>
<path d="M37.2 172.20H42" stroke="#111" stroke-width="1.2"/>
<path d="M37.2 133.75H42" stroke="#111" stroke-width="1.2"/>
<path d="M37.2 95.30H42" stroke="#111" stroke-width="1.2"/>
<path d="M37.2 56.85H42" stroke="#111" stroke-width="1.2"/>
<path d="M53.2 172.2V177.2" stroke="#111" stroke-width="1.2"/>
<path d="M69.7 172.2V177.2" stroke="#111" stroke-width="1.2"/>
<path d="M86.4 172.2V177.2" stroke="#111" stroke-width="1.2"/>
<path d="M114.1 172.2V177.2" stroke="#111" stroke-width="1.2"/>
<path d="M130.7 172.2V177.2" stroke="#111" stroke-width="1.2"/>
<path d="M147.0 172.2V177.2" stroke="#111" stroke-width="1.2"/>
<path d="M174.7 172.2V177.2" stroke="#111" stroke-width="1.2"/>
<path d="M191.4 172.2V177.2" stroke="#111" stroke-width="1.2"/>
<text transform="translate(35.60 59.40) scale(1 1.1)" font-size="7.9" text-anchor="end">32768</text>
<text transform="translate(35.60 97.85) scale(1 1.1)" font-size="7.9" text-anchor="end">1024</text>
<text transform="translate(35.60 136.30) scale(1 1.1)" font-size="7.9" text-anchor="end">32</text>
<text transform="translate(35.60 174.75) scale(1 1.1)" font-size="7.9" text-anchor="end">1</text>
<text transform="translate(8.6 115.1) rotate(-90)" font-size="9.9" text-anchor="middle">nAb titer</text>
<text transform="translate(70.20 170.70) scale(1 1.06)" font-size="7.0" text-anchor="middle">N = 58</text>
<text transform="translate(130.20 170.70) scale(1 1.06)" font-size="7.0" text-anchor="middle">N = 18</text>
<text transform="translate(182.80 170.70) scale(1 1.06)" font-size="7.0" text-anchor="middle">N = 18</text>
<text transform="translate(53.20 185.70) scale(1 1.08)" font-size="7.6" text-anchor="middle">d1</text>
<text transform="translate(69.70 185.70) scale(1 1.08)" font-size="7.6" text-anchor="middle">d14</text>
<text transform="translate(86.40 185.70) scale(1 1.08)" font-size="7.6" text-anchor="middle">d28</text>
<text transform="translate(114.10 185.70) scale(1 1.08)" font-size="7.6" text-anchor="middle">d1</text>
<text transform="translate(130.70 185.70) scale(1 1.08)" font-size="7.6" text-anchor="middle">d14</text>
<text transform="translate(147.00 185.70) scale(1 1.08)" font-size="7.6" text-anchor="middle">d28</text>
<text transform="translate(174.70 185.70) scale(1 1.08)" font-size="7.6" text-anchor="middle">d1</text>
<text transform="translate(191.40 185.70) scale(1 1.08)" font-size="7.6" text-anchor="middle">d21</text>
<path d="M55 189H88.1M114.4 189H145.8M167.2 189H200" stroke="#222" stroke-width="1.3"/>
<text transform="translate(69.50 197.90) scale(1 1.08)" font-size="7.85" text-anchor="middle">ARVAC CG</text>
<text transform="translate(69.40 207.90) scale(1 1.08)" font-size="7.85" text-anchor="middle">25 µg</text>
<text transform="translate(131.70 197.90) scale(1 1.08)" font-size="7.85" text-anchor="middle">ARVAC CG</text>
<text transform="translate(131.90 207.90) scale(1 1.08)" font-size="7.85" text-anchor="middle">50 µg</text>
<text transform="translate(181.50 203.80) scale(1 1.08)" font-size="7.6" text-anchor="middle">BNT162b2</text>
<path d="M53.2 116.30V150.14M50.90 116.30h4.6M50.90 150.14h4.6" stroke="#3a9cc8" stroke-width="0.9" fill="none"/>
<path d="M47.60 133.22h11.2" stroke="#000" stroke-width="1.3"/>
<circle cx="53.20" cy="110.68" r="2.2" fill="#127c9e"/>
<circle cx="53.20" cy="110.68" r="1.2" fill="#58aaff" stroke="#3a9ae0" stroke-width="0.3"/>
<circle cx="51.15" cy="118.37" r="2.2" fill="#127c9e"/>
<circle cx="53.20" cy="118.37" r="2.2" fill="#127c9e"/>
<circle cx="55.25" cy="118.37" r="2.2" fill="#127c9e"/>
<circle cx="51.15" cy="118.37" r="1.2" fill="#58aaff" stroke="#3a9ae0" stroke-width="0.3"/>
<circle cx="53.20" cy="118.37" r="1.2" fill="#58aaff" stroke="#3a9ae0" stroke-width="0.3"/>
<circle cx="55.25" cy="118.37" r="1.2" fill="#58aaff" stroke="#3a9ae0" stroke-width="0.3"/>
<circle cx="50.10" cy="126.06" r="2.2" fill="#127c9e"/>
<circle cx="52.17" cy="126.06" r="2.2" fill="#127c9e"/>
<circle cx="54.23" cy="126.06" r="2.2" fill="#127c9e"/>
<circle cx="56.30" cy="126.06" r="2.2" fill="#127c9e"/>
<circle cx="50.10" cy="126.06" r="1.2" fill="#58aaff" stroke="#3a9ae0" stroke-width="0.3"/>
<circle cx="52.17" cy="126.06" r="1.2" fill="#58aaff" stroke="#3a9ae0" stroke-width="0.3"/>
<circle cx="54.23" cy="126.06" r="1.2" fill="#58aaff" stroke="#3a9ae0" stroke-width="0.3"/>
<circle cx="56.30" cy="126.06" r="1.2" fill="#58aaff" stroke="#3a9ae0" stroke-width="0.3"/>
<circle cx="50.10" cy="133.75" r="2.2" fill="#127c9e"/>
<circle cx="52.17" cy="133.75" r="2.2" fill="#127c9e"/>
<circle cx="54.23" cy="133.75" r="2.2" fill="#127c9e"/>
<circle cx="56.30" cy="133.75" r="2.2" fill="#127c9e"/>
<circle cx="50.10" cy="133.75" r="1.2" fill="#58aaff" stroke="#3a9ae0" stroke-width="0.3"/>
<circle cx="52.17" cy="133.75" r="1.2" fill="#58aaff" stroke="#3a9ae0" stroke-width="0.3"/>
<circle cx="54.23" cy="133.75" r="1.2" fill="#58aaff" stroke="#3a9ae0" stroke-width="0.3"/>
<circle cx="56.30" cy="133.75" r="1.2" fill="#58aaff" stroke="#3a9ae0" stroke-width="0.3"/>
<circle cx="51.35" cy="141.44" r="2.2" fill="#127c9e"/>
<circle cx="53.20" cy="141.44" r="2.2" fill="#127c9e"/>
<circle cx="55.05" cy="141.44" r="2.2" fill="#127c9e"/>
<circle cx="51.35" cy="141.44" r="1.2" fill="#58aaff" stroke="#3a9ae0" stroke-width="0.3"/>
<circle cx="53.20" cy="141.44" r="1.2" fill="#58aaff" stroke="#3a9ae0" stroke-width="0.3"/>
<circle cx="55.05" cy="141.44" r="1.2" fill="#58aaff" stroke="#3a9ae0" stroke-width="0.3"/>
<circle cx="53.20" cy="149.13" r="2.2" fill="#127c9e"/>
<circle cx="53.20" cy="149.13" r="1.2" fill="#58aaff" stroke="#3a9ae0" stroke-width="0.3"/>
<circle cx="51.35" cy="156.82" r="2.2" fill="#127c9e"/>
<circle cx="53.20" cy="156.82" r="2.2" fill="#127c9e"/>
<circle cx="55.05" cy="156.82" r="2.2" fill="#127c9e"/>
<circle cx="51.35" cy="156.82" r="1.2" fill="#58aaff" stroke="#3a9ae0" stroke-width="0.3"/>
<circle cx="53.20" cy="156.82" r="1.2" fill="#58aaff" stroke="#3a9ae0" stroke-width="0.3"/>
<circle cx="55.05" cy="156.82" r="1.2" fill="#58aaff" stroke="#3a9ae0" stroke-width="0.3"/>
<path d="M69.7 86.84V121.98M67.40 86.84h4.6M67.40 121.98h4.6" stroke="#3a9cc8" stroke-width="0.9" fill="none"/>
<path d="M64.10 104.45h11.2" stroke="#000" stroke-width="1.3"/>
<circle cx="69.05" cy="72.23" r="2.2" fill="#127c9e"/>
<circle cx="70.35" cy="72.23" r="2.2" fill="#127c9e"/>
<circle cx="69.05" cy="72.23" r="1.2" fill="#58aaff" stroke="#3a9ae0" stroke-width="0.3"/>
<circle cx="70.35" cy="72.23" r="1.2" fill="#58aaff" stroke="#3a9ae0" stroke-width="0.3"/>
<circle cx="69.70" cy="79.92" r="2.2" fill="#127c9e"/>
<circle cx="69.70" cy="79.92" r="1.2" fill="#58aaff" stroke="#3a9ae0" stroke-width="0.3"/>
<circle cx="69.05" cy="87.61" r="2.2" fill="#127c9e"/>
<circle cx="70.35" cy="87.61" r="2.2" fill="#127c9e"/>
<circle cx="69.05" cy="87.61" r="1.2" fill="#58aaff" stroke="#3a9ae0" stroke-width="0.3"/>
<circle cx="70.35" cy="87.61" r="1.2" fill="#58aaff" stroke="#3a9ae0" stroke-width="0.3"/>
<circle cx="67.65" cy="95.30" r="2.2" fill="#127c9e"/>
<circle cx="69.70" cy="95.30" r="2.2" fill="#127c9e"/>
<circle cx="71.75" cy="95.30" r="2.2" fill="#127c9e"/>
<circle cx="67.65" cy="95.30" r="1.2" fill="#58aaff" stroke="#3a9ae0" stroke-width="0.3"/>
<circle cx="69.70" cy="95.30" r="1.2" fill="#58aaff" stroke="#3a9ae0" stroke-width="0.3"/>
<circle cx="71.75" cy="95.30" r="1.2" fill="#58aaff" stroke="#3a9ae0" stroke-width="0.3"/>
<circle cx="66.30" cy="102.99" r="2.2" fill="#127c9e"/>
<circle cx="68.57" cy="102.99" r="2.2" fill="#127c9e"/>
<circle cx="70.83" cy="102.99" r="2.2" fill="#127c9e"/>
<circle cx="73.10" cy="102.99" r="2.2" fill="#127c9e"/>
<circle cx="66.30" cy="102.99" r="1.2" fill="#58aaff" stroke="#3a9ae0" stroke-width="0.3"/>
<circle cx="68.57" cy="102.99" r="1.2" fill="#58aaff" stroke="#3a9ae0" stroke-width="0.3"/>
<circle cx="70.83" cy="102.99" r="1.2" fill="#58aaff" stroke="#3a9ae0" stroke-width="0.3"/>
<circle cx="73.10" cy="102.99" r="1.2" fill="#58aaff" stroke="#3a9ae0" stroke-width="0.3"/>
<circle cx="67.50" cy="110.68" r="2.2" fill="#127c9e"/>
<circle cx="69.70" cy="110.68" r="2.2" fill="#127c9e"/>
<circle cx="71.90" cy="110.68" r="2.2" fill="#127c9e"/>
<circle cx="67.50" cy="110.68" r="1.2" fill="#58aaff" stroke="#3a9ae0" stroke-width="0.3"/>
<circle cx="69.70" cy="110.68" r="1.2" fill="#58aaff" stroke="#3a9ae0" stroke-width="0.3"/>
<circle cx="71.90" cy="110.68" r="1.2" fill="#58aaff" stroke="#3a9ae0" stroke-width="0.3"/>
<circle cx="69.70" cy="118.37" r="2.2" fill="#127c9e"/>
<circle cx="69.70" cy="118.37" r="1.2" fill="#58aaff" stroke="#3a9ae0" stroke-width="0.3"/>
<circle cx="69.70" cy="126.06" r="2.2" fill="#127c9e"/>
<circle cx="69.70" cy="126.06" r="1.2" fill="#58aaff" stroke="#3a9ae0" stroke-width="0.3"/>
<circle cx="69.70" cy="133.75" r="2.2" fill="#127c9e"/>
<circle cx="69.70" cy="133.75" r="1.2" fill="#58aaff" stroke="#3a9ae0" stroke-width="0.3"/>
<circle cx="69.70" cy="141.44" r="2.2" fill="#127c9e"/>
<circle cx="69.70" cy="141.44" r="1.2" fill="#58aaff" stroke="#3a9ae0" stroke-width="0.3"/>
<circle cx="69.70" cy="156.82" r="2.2" fill="#127c9e"/>
<circle cx="69.70" cy="156.82" r="1.2" fill="#58aaff" stroke="#3a9ae0" stroke-width="0.3"/>
<path d="M86.4 89.92V128.37M84.10 89.92h4.6M84.10 128.37h4.6" stroke="#3a9cc8" stroke-width="0.9" fill="none"/>
<path d="M80.80 108.96h11.2" stroke="#000" stroke-width="1.3"/>
<circle cx="86.40" cy="79.92" r="2.2" fill="#127c9e"/>
<circle cx="86.40" cy="79.92" r="1.2" fill="#58aaff" stroke="#3a9ae0" stroke-width="0.3"/>
<circle cx="85.75" cy="87.61" r="2.2" fill="#127c9e"/>
<circle cx="87.05" cy="87.61" r="2.2" fill="#127c9e"/>
<circle cx="85.75" cy="87.61" r="1.2" fill="#58aaff" stroke="#3a9ae0" stroke-width="0.3"/>
<circle cx="87.05" cy="87.61" r="1.2" fill="#58aaff" stroke="#3a9ae0" stroke-width="0.3"/>
<circle cx="83.80" cy="95.30" r="2.2" fill="#127c9e"/>
<circle cx="85.53" cy="95.30" r="2.2" fill="#127c9e"/>
<circle cx="87.27" cy="95.30" r="2.2" fill="#127c9e"/>
<circle cx="89.00" cy="95.30" r="2.2" fill="#127c9e"/>
<circle cx="83.80" cy="95.30" r="1.2" fill="#58aaff" stroke="#3a9ae0" stroke-width="0.3"/>
<circle cx="85.53" cy="95.30" r="1.2" fill="#58aaff" stroke="#3a9ae0" stroke-width="0.3"/>
<circle cx="87.27" cy="95.30" r="1.2" fill="#58aaff" stroke="#3a9ae0" stroke-width="0.3"/>
<circle cx="89.00" cy="95.30" r="1.2" fill="#58aaff" stroke="#3a9ae0" stroke-width="0.3"/>
<circle cx="83.20" cy="102.99" r="2.2" fill="#127c9e"/>
<circle cx="85.33" cy="102.99" r="2.2" fill="#127c9e"/>
<circle cx="87.47" cy="102.99" r="2.2" fill="#127c9e"/>
<circle cx="89.60" cy="102.99" r="2.2" fill="#127c9e"/>
<circle cx="83.20" cy="102.99" r="1.2" fill="#58aaff" stroke="#3a9ae0" stroke-width="0.3"/>
<circle cx="85.33" cy="102.99" r="1.2" fill="#58aaff" stroke="#3a9ae0" stroke-width="0.3"/>
<circle cx="87.47" cy="102.99" r="1.2" fill="#58aaff" stroke="#3a9ae0" stroke-width="0.3"/>
<circle cx="89.60" cy="102.99" r="1.2" fill="#58aaff" stroke="#3a9ae0" stroke-width="0.3"/>
<circle cx="83.20" cy="110.68" r="2.2" fill="#127c9e"/>
<circle cx="85.33" cy="110.68" r="2.2" fill="#127c9e"/>
<circle cx="87.47" cy="110.68" r="2.2" fill="#127c9e"/>
<circle cx="89.60" cy="110.68" r="2.2" fill="#127c9e"/>
<circle cx="83.20" cy="110.68" r="1.2" fill="#58aaff" stroke="#3a9ae0" stroke-width="0.3"/>
<circle cx="85.33" cy="110.68" r="1.2" fill="#58aaff" stroke="#3a9ae0" stroke-width="0.3"/>
<circle cx="87.47" cy="110.68" r="1.2" fill="#58aaff" stroke="#3a9ae0" stroke-width="0.3"/>
<circle cx="89.60" cy="110.68" r="1.2" fill="#58aaff" stroke="#3a9ae0" stroke-width="0.3"/>
<circle cx="84.80" cy="118.37" r="2.2" fill="#127c9e"/>
<circle cx="86.40" cy="118.37" r="2.2" fill="#127c9e"/>
<circle cx="88.00" cy="118.37" r="2.2" fill="#127c9e"/>
<circle cx="84.80" cy="118.37" r="1.2" fill="#58aaff" stroke="#3a9ae0" stroke-width="0.3"/>
<circle cx="86.40" cy="118.37" r="1.2" fill="#58aaff" stroke="#3a9ae0" stroke-width="0.3"/>
<circle cx="88.00" cy="118.37" r="1.2" fill="#58aaff" stroke="#3a9ae0" stroke-width="0.3"/>
<circle cx="85.05" cy="126.06" r="2.2" fill="#127c9e"/>
<circle cx="87.75" cy="126.06" r="2.2" fill="#127c9e"/>
<circle cx="85.05" cy="126.06" r="1.2" fill="#58aaff" stroke="#3a9ae0" stroke-width="0.3"/>
<circle cx="87.75" cy="126.06" r="1.2" fill="#58aaff" stroke="#3a9ae0" stroke-width="0.3"/>
<circle cx="86.40" cy="133.75" r="2.2" fill="#127c9e"/>
<circle cx="86.40" cy="133.75" r="1.2" fill="#58aaff" stroke="#3a9ae0" stroke-width="0.3"/>
<circle cx="86.40" cy="141.44" r="2.2" fill="#127c9e"/>
<circle cx="86.40" cy="141.44" r="1.2" fill="#58aaff" stroke="#3a9ae0" stroke-width="0.3"/>
<circle cx="86.40" cy="156.82" r="2.2" fill="#127c9e"/>
<circle cx="86.40" cy="156.82" r="1.2" fill="#58aaff" stroke="#3a9ae0" stroke-width="0.3"/>
<path d="M114.1 120.25V154.08M111.80 120.25h4.6M111.80 154.08h4.6" stroke="#3a3aea" stroke-width="0.9" fill="none"/>
<path d="M108.50 137.17h11.2" stroke="#000" stroke-width="1.3"/>
<circle cx="114.10" cy="95.30" r="2.2" fill="#1a1ad0"/>
<circle cx="114.10" cy="95.30" r="1.2" fill="#5050ff" stroke="#3434ee" stroke-width="0.3"/>
<circle cx="114.10" cy="110.68" r="2.2" fill="#1a1ad0"/>
<circle cx="114.10" cy="110.68" r="1.2" fill="#5050ff" stroke="#3434ee" stroke-width="0.3"/>
<circle cx="113.00" cy="118.37" r="2.2" fill="#1a1ad0"/>
<circle cx="115.20" cy="118.37" r="2.2" fill="#1a1ad0"/>
<circle cx="113.00" cy="118.37" r="1.2" fill="#5050ff" stroke="#3434ee" stroke-width="0.3"/>
<circle cx="115.20" cy="118.37" r="1.2" fill="#5050ff" stroke="#3434ee" stroke-width="0.3"/>
<circle cx="114.10" cy="126.06" r="2.2" fill="#1a1ad0"/>
<circle cx="114.10" cy="126.06" r="1.2" fill="#5050ff" stroke="#3434ee" stroke-width="0.3"/>
<circle cx="110.65" cy="133.75" r="2.2" fill="#1a1ad0"/>
<circle cx="112.95" cy="133.75" r="2.2" fill="#1a1ad0"/>
<circle cx="115.25" cy="133.75" r="2.2" fill="#1a1ad0"/>
<circle cx="117.55" cy="133.75" r="2.2" fill="#1a1ad0"/>
<circle cx="110.65" cy="133.75" r="1.2" fill="#5050ff" stroke="#3434ee" stroke-width="0.3"/>
<circle cx="112.95" cy="133.75" r="1.2" fill="#5050ff" stroke="#3434ee" stroke-width="0.3"/>
<circle cx="115.25" cy="133.75" r="1.2" fill="#5050ff" stroke="#3434ee" stroke-width="0.3"/>
<circle cx="117.55" cy="133.75" r="1.2" fill="#5050ff" stroke="#3434ee" stroke-width="0.3"/>
<circle cx="114.10" cy="141.44" r="2.2" fill="#1a1ad0"/>
<circle cx="114.10" cy="141.44" r="1.2" fill="#5050ff" stroke="#3434ee" stroke-width="0.3"/>
<circle cx="110.65" cy="149.13" r="2.2" fill="#1a1ad0"/>
<circle cx="112.95" cy="149.13" r="2.2" fill="#1a1ad0"/>
<circle cx="115.25" cy="149.13" r="2.2" fill="#1a1ad0"/>
<circle cx="117.55" cy="149.13" r="2.2" fill="#1a1ad0"/>
<circle cx="110.65" cy="149.13" r="1.2" fill="#5050ff" stroke="#3434ee" stroke-width="0.3"/>
<circle cx="112.95" cy="149.13" r="1.2" fill="#5050ff" stroke="#3434ee" stroke-width="0.3"/>
<circle cx="115.25" cy="149.13" r="1.2" fill="#5050ff" stroke="#3434ee" stroke-width="0.3"/>
<circle cx="117.55" cy="149.13" r="1.2" fill="#5050ff" stroke="#3434ee" stroke-width="0.3"/>
<circle cx="110.65" cy="156.82" r="2.2" fill="#1a1ad0"/>
<circle cx="112.95" cy="156.82" r="2.2" fill="#1a1ad0"/>
<circle cx="115.25" cy="156.82" r="2.2" fill="#1a1ad0"/>
<circle cx="117.55" cy="156.82" r="2.2" fill="#1a1ad0"/>
<circle cx="110.65" cy="156.82" r="1.2" fill="#5050ff" stroke="#3434ee" stroke-width="0.3"/>
<circle cx="112.95" cy="156.82" r="1.2" fill="#5050ff" stroke="#3434ee" stroke-width="0.3"/>
<circle cx="115.25" cy="156.82" r="1.2" fill="#5050ff" stroke="#3434ee" stroke-width="0.3"/>
<circle cx="117.55" cy="156.82" r="1.2" fill="#5050ff" stroke="#3434ee" stroke-width="0.3"/>
<path d="M130.7 84.38V113.76M128.40 84.38h4.6M128.40 113.76h4.6" stroke="#3a3aea" stroke-width="0.9" fill="none"/>
<path d="M125.10 99.14h11.2" stroke="#000" stroke-width="1.3"/>
<circle cx="128.10" cy="79.92" r="2.2" fill="#1a1ad0"/>
<circle cx="129.83" cy="79.92" r="2.2" fill="#1a1ad0"/>
<circle cx="131.57" cy="79.92" r="2.2" fill="#1a1ad0"/>
<circle cx="133.30" cy="79.92" r="2.2" fill="#1a1ad0"/>
<circle cx="128.10" cy="79.92" r="1.2" fill="#5050ff" stroke="#3434ee" stroke-width="0.3"/>
<circle cx="129.83" cy="79.92" r="1.2" fill="#5050ff" stroke="#3434ee" stroke-width="0.3"/>
<circle cx="131.57" cy="79.92" r="1.2" fill="#5050ff" stroke="#3434ee" stroke-width="0.3"/>
<circle cx="133.30" cy="79.92" r="1.2" fill="#5050ff" stroke="#3434ee" stroke-width="0.3"/>
<circle cx="130.70" cy="87.61" r="2.2" fill="#1a1ad0"/>
<circle cx="130.70" cy="87.61" r="1.2" fill="#5050ff" stroke="#3434ee" stroke-width="0.3"/>
<circle cx="129.25" cy="95.30" r="2.2" fill="#1a1ad0"/>
<circle cx="132.15" cy="95.30" r="2.2" fill="#1a1ad0"/>
<circle cx="129.25" cy="95.30" r="1.2" fill="#5050ff" stroke="#3434ee" stroke-width="0.3"/>
<circle cx="132.15" cy="95.30" r="1.2" fill="#5050ff" stroke="#3434ee" stroke-width="0.3"/>
<circle cx="127.05" cy="102.99" r="2.2" fill="#1a1ad0"/>
<circle cx="128.87" cy="102.99" r="2.2" fill="#1a1ad0"/>
<circle cx="130.70" cy="102.99" r="2.2" fill="#1a1ad0"/>
<circle cx="132.52" cy="102.99" r="2.2" fill="#1a1ad0"/>
<circle cx="134.35" cy="102.99" r="2.2" fill="#1a1ad0"/>
<circle cx="127.05" cy="102.99" r="1.2" fill="#5050ff" stroke="#3434ee" stroke-width="0.3"/>
<circle cx="128.87" cy="102.99" r="1.2" fill="#5050ff" stroke="#3434ee" stroke-width="0.3"/>
<circle cx="130.70" cy="102.99" r="1.2" fill="#5050ff" stroke="#3434ee" stroke-width="0.3"/>
<circle cx="132.52" cy="102.99" r="1.2" fill="#5050ff" stroke="#3434ee" stroke-width="0.3"/>
<circle cx="134.35" cy="102.99" r="1.2" fill="#5050ff" stroke="#3434ee" stroke-width="0.3"/>
<circle cx="128.10" cy="110.68" r="2.2" fill="#1a1ad0"/>
<circle cx="129.83" cy="110.68" r="2.2" fill="#1a1ad0"/>
<circle cx="131.57" cy="110.68" r="2.2" fill="#1a1ad0"/>
<circle cx="133.30" cy="110.68" r="2.2" fill="#1a1ad0"/>
<circle cx="128.10" cy="110.68" r="1.2" fill="#5050ff" stroke="#3434ee" stroke-width="0.3"/>
<circle cx="129.83" cy="110.68" r="1.2" fill="#5050ff" stroke="#3434ee" stroke-width="0.3"/>
<circle cx="131.57" cy="110.68" r="1.2" fill="#5050ff" stroke="#3434ee" stroke-width="0.3"/>
<circle cx="133.30" cy="110.68" r="1.2" fill="#5050ff" stroke="#3434ee" stroke-width="0.3"/>
<circle cx="130.70" cy="133.75" r="2.2" fill="#1a1ad0"/>
<circle cx="130.70" cy="133.75" r="1.2" fill="#5050ff" stroke="#3434ee" stroke-width="0.3"/>
<path d="M147.0 95.30V118.37M144.70 95.30h4.6M144.70 118.37h4.6" stroke="#3a3aea" stroke-width="0.9" fill="none"/>
<path d="M141.40 107.69h11.2" stroke="#000" stroke-width="1.3"/>
<circle cx="147.00" cy="87.61" r="2.2" fill="#1a1ad0"/>
<circle cx="147.00" cy="87.61" r="1.2" fill="#5050ff" stroke="#3434ee" stroke-width="0.3"/>
<circle cx="146.35" cy="95.30" r="2.2" fill="#1a1ad0"/>
<circle cx="147.65" cy="95.30" r="2.2" fill="#1a1ad0"/>
<circle cx="146.35" cy="95.30" r="1.2" fill="#5050ff" stroke="#3434ee" stroke-width="0.3"/>
<circle cx="147.65" cy="95.30" r="1.2" fill="#5050ff" stroke="#3434ee" stroke-width="0.3"/>
<circle cx="143.35" cy="102.99" r="2.2" fill="#1a1ad0"/>
<circle cx="145.17" cy="102.99" r="2.2" fill="#1a1ad0"/>
<circle cx="147.00" cy="102.99" r="2.2" fill="#1a1ad0"/>
<circle cx="148.82" cy="102.99" r="2.2" fill="#1a1ad0"/>
<circle cx="150.65" cy="102.99" r="2.2" fill="#1a1ad0"/>
<circle cx="143.35" cy="102.99" r="1.2" fill="#5050ff" stroke="#3434ee" stroke-width="0.3"/>
<circle cx="145.17" cy="102.99" r="1.2" fill="#5050ff" stroke="#3434ee" stroke-width="0.3"/>
<circle cx="147.00" cy="102.99" r="1.2" fill="#5050ff" stroke="#3434ee" stroke-width="0.3"/>
<circle cx="148.82" cy="102.99" r="1.2" fill="#5050ff" stroke="#3434ee" stroke-width="0.3"/>
<circle cx="150.65" cy="102.99" r="1.2" fill="#5050ff" stroke="#3434ee" stroke-width="0.3"/>
<circle cx="143.35" cy="110.68" r="2.2" fill="#1a1ad0"/>
<circle cx="145.17" cy="110.68" r="2.2" fill="#1a1ad0"/>
<circle cx="147.00" cy="110.68" r="2.2" fill="#1a1ad0"/>
<circle cx="148.82" cy="110.68" r="2.2" fill="#1a1ad0"/>
<circle cx="150.65" cy="110.68" r="2.2" fill="#1a1ad0"/>
<circle cx="143.35" cy="110.68" r="1.2" fill="#5050ff" stroke="#3434ee" stroke-width="0.3"/>
<circle cx="145.17" cy="110.68" r="1.2" fill="#5050ff" stroke="#3434ee" stroke-width="0.3"/>
<circle cx="147.00" cy="110.68" r="1.2" fill="#5050ff" stroke="#3434ee" stroke-width="0.3"/>
<circle cx="148.82" cy="110.68" r="1.2" fill="#5050ff" stroke="#3434ee" stroke-width="0.3"/>
<circle cx="150.65" cy="110.68" r="1.2" fill="#5050ff" stroke="#3434ee" stroke-width="0.3"/>
<circle cx="147.00" cy="118.37" r="2.2" fill="#1a1ad0"/>
<circle cx="147.00" cy="118.37" r="1.2" fill="#5050ff" stroke="#3434ee" stroke-width="0.3"/>
<circle cx="146.15" cy="133.75" r="2.2" fill="#1a1ad0"/>
<circle cx="147.85" cy="133.75" r="2.2" fill="#1a1ad0"/>
<circle cx="146.15" cy="133.75" r="1.2" fill="#5050ff" stroke="#3434ee" stroke-width="0.3"/>
<circle cx="147.85" cy="133.75" r="1.2" fill="#5050ff" stroke="#3434ee" stroke-width="0.3"/>
<path d="M174.7 132.37V163.20M172.40 132.37h4.6M172.40 163.20h4.6" stroke="#a040d0" stroke-width="0.9" fill="none"/>
<path d="M169.10 147.87h11.2" stroke="#000" stroke-width="1.3"/>
<circle cx="174.70" cy="110.68" r="2.2" fill="#8418b0"/>
<circle cx="174.70" cy="110.68" r="1.2" fill="#bc64ec" stroke="#a040d4" stroke-width="0.3"/>
<circle cx="174.70" cy="118.37" r="2.2" fill="#8418b0"/>
<circle cx="174.70" cy="118.37" r="1.2" fill="#bc64ec" stroke="#a040d4" stroke-width="0.3"/>
<circle cx="174.70" cy="126.06" r="2.2" fill="#8418b0"/>
<circle cx="174.70" cy="126.06" r="1.2" fill="#bc64ec" stroke="#a040d4" stroke-width="0.3"/>
<circle cx="174.70" cy="133.75" r="2.2" fill="#8418b0"/>
<circle cx="174.70" cy="133.75" r="1.2" fill="#bc64ec" stroke="#a040d4" stroke-width="0.3"/>
<circle cx="174.70" cy="141.44" r="2.2" fill="#8418b0"/>
<circle cx="174.70" cy="141.44" r="1.2" fill="#bc64ec" stroke="#a040d4" stroke-width="0.3"/>
<circle cx="174.70" cy="149.13" r="2.2" fill="#8418b0"/>
<circle cx="174.70" cy="149.13" r="1.2" fill="#bc64ec" stroke="#a040d4" stroke-width="0.3"/>
<circle cx="170.85" cy="156.82" r="2.2" fill="#8418b0"/>
<circle cx="172.78" cy="156.82" r="2.2" fill="#8418b0"/>
<circle cx="174.70" cy="156.82" r="2.2" fill="#8418b0"/>
<circle cx="176.62" cy="156.82" r="2.2" fill="#8418b0"/>
<circle cx="178.55" cy="156.82" r="2.2" fill="#8418b0"/>
<circle cx="170.85" cy="156.82" r="1.2" fill="#bc64ec" stroke="#a040d4" stroke-width="0.3"/>
<circle cx="172.78" cy="156.82" r="1.2" fill="#bc64ec" stroke="#a040d4" stroke-width="0.3"/>
<circle cx="174.70" cy="156.82" r="1.2" fill="#bc64ec" stroke="#a040d4" stroke-width="0.3"/>
<circle cx="176.62" cy="156.82" r="1.2" fill="#bc64ec" stroke="#a040d4" stroke-width="0.3"/>
<circle cx="178.55" cy="156.82" r="1.2" fill="#bc64ec" stroke="#a040d4" stroke-width="0.3"/>
<path d="M191.4 118.37V144.52M189.10 118.37h4.6M189.10 144.52h4.6" stroke="#a040d0" stroke-width="0.9" fill="none"/>
<path d="M185.80 131.19h11.2" stroke="#000" stroke-width="1.3"/>
<circle cx="190.75" cy="110.68" r="2.2" fill="#8418b0"/>
<circle cx="192.05" cy="110.68" r="2.2" fill="#8418b0"/>
<circle cx="190.75" cy="110.68" r="1.2" fill="#bc64ec" stroke="#a040d4" stroke-width="0.3"/>
<circle cx="192.05" cy="110.68" r="1.2" fill="#bc64ec" stroke="#a040d4" stroke-width="0.3"/>
<circle cx="190.75" cy="118.37" r="2.2" fill="#8418b0"/>
<circle cx="192.05" cy="118.37" r="2.2" fill="#8418b0"/>
<circle cx="190.75" cy="118.37" r="1.2" fill="#bc64ec" stroke="#a040d4" stroke-width="0.3"/>
<circle cx="192.05" cy="118.37" r="1.2" fill="#bc64ec" stroke="#a040d4" stroke-width="0.3"/>
<circle cx="190.75" cy="126.06" r="2.2" fill="#8418b0"/>
<circle cx="192.05" cy="126.06" r="2.2" fill="#8418b0"/>
<circle cx="190.75" cy="126.06" r="1.2" fill="#bc64ec" stroke="#a040d4" stroke-width="0.3"/>
<circle cx="192.05" cy="126.06" r="1.2" fill="#bc64ec" stroke="#a040d4" stroke-width="0.3"/>
<circle cx="188.05" cy="133.75" r="2.2" fill="#8418b0"/>
<circle cx="190.28" cy="133.75" r="2.2" fill="#8418b0"/>
<circle cx="192.52" cy="133.75" r="2.2" fill="#8418b0"/>
<circle cx="194.75" cy="133.75" r="2.2" fill="#8418b0"/>
<circle cx="188.05" cy="133.75" r="1.2" fill="#bc64ec" stroke="#a040d4" stroke-width="0.3"/>
<circle cx="190.28" cy="133.75" r="1.2" fill="#bc64ec" stroke="#a040d4" stroke-width="0.3"/>
<circle cx="192.52" cy="133.75" r="1.2" fill="#bc64ec" stroke="#a040d4" stroke-width="0.3"/>
<circle cx="194.75" cy="133.75" r="1.2" fill="#bc64ec" stroke="#a040d4" stroke-width="0.3"/>
<circle cx="190.75" cy="141.44" r="2.2" fill="#8418b0"/>
<circle cx="192.05" cy="141.44" r="2.2" fill="#8418b0"/>
<circle cx="190.75" cy="141.44" r="1.2" fill="#bc64ec" stroke="#a040d4" stroke-width="0.3"/>
<circle cx="192.05" cy="141.44" r="1.2" fill="#bc64ec" stroke="#a040d4" stroke-width="0.3"/>
<circle cx="191.40" cy="149.13" r="2.2" fill="#8418b0"/>
<circle cx="191.40" cy="149.13" r="1.2" fill="#bc64ec" stroke="#a040d4" stroke-width="0.3"/>
<circle cx="191.40" cy="156.82" r="2.2" fill="#8418b0"/>
<circle cx="191.40" cy="156.82" r="1.2" fill="#bc64ec" stroke="#a040d4" stroke-width="0.3"/>
</g>
<g transform="matrix(0.937 0 0 0.9427 212.95 225.96)">
<path d="M42 56.5V172.2M37.2 172.2H203.2" stroke="#111" stroke-width="1.4" fill="none"/>
<path d="M37.2 172.20H42" stroke="#111" stroke-width="1.2"/>
<path d="M37.2 133.75H42" stroke="#111" stroke-width="1.2"/>
<path d="M37.2 95.30H42" stroke="#111" stroke-width="1.2"/>
<path d="M37.2 56.85H42" stroke="#111" stroke-width="1.2"/>
<path d="M53.2 172.2V177.2" stroke="#111" stroke-width="1.2"/>
<path d="M69.7 172.2V177.2" stroke="#111" stroke-width="1.2"/>
<path d="M86.4 172.2V177.2" stroke="#111" stroke-width="1.2"/>
<path d="M114.1 172.2V177.2" stroke="#111" stroke-width="1.2"/>
<path d="M130.7 172.2V177.2" stroke="#111" stroke-width="1.2"/>
<path d="M147.0 172.2V177.2" stroke="#111" stroke-width="1.2"/>
<path d="M174.7 172.2V177.2" stroke="#111" stroke-width="1.2"/>
<path d="M191.4 172.2V177.2" stroke="#111" stroke-width="1.2"/>
<text transform="translate(35.60 59.40) scale(1 1.1)" font-size="7.9" text-anchor="end">32768</text>
<text transform="translate(35.60 97.85) scale(1 1.1)" font-size="7.9" text-anchor="end">1024</text>
<text transform="translate(35.60 136.30) scale(1 1.1)" font-size="7.9" text-anchor="end">32</text>
<text transform="translate(35.60 174.75) scale(1 1.1)" font-size="7.9" text-anchor="end">1</text>
<text transform="translate(8.6 115.1) rotate(-90)" font-size="9.9" text-anchor="middle">nAb titer</text>
<text transform="translate(70.20 170.70) scale(1 1.06)" font-size="7.0" text-anchor="middle">N = 58</text>
<text transform="translate(130.20 170.70) scale(1 1.06)" font-size="7.0" text-anchor="middle">N = 18</text>
<text transform="translate(182.80 170.70) scale(1 1.06)" font-size="7.0" text-anchor="middle">N = 18</text>
<text transform="translate(53.20 185.70) scale(1 1.08)" font-size="7.6" text-anchor="middle">d1</text>
<text transform="translate(69.70 185.70) scale(1 1.08)" font-size="7.6" text-anchor="middle">d14</text>
<text transform="translate(86.40 185.70) scale(1 1.08)" font-size="7.6" text-anchor="middle">d28</text>
<text transform="translate(114.10 185.70) scale(1 1.08)" font-size="7.6" text-anchor="middle">d1</text>
<text transform="translate(130.70 185.70) scale(1 1.08)" font-size="7.6" text-anchor="middle">d14</text>
<text transform="translate(147.00 185.70) scale(1 1.08)" font-size="7.6" text-anchor="middle">d28</text>
<text transform="translate(174.70 185.70) scale(1 1.08)" font-size="7.6" text-anchor="middle">d1</text>
<text transform="translate(191.40 185.70) scale(1 1.08)" font-size="7.6" text-anchor="middle">d21</text>
<path d="M55 189H88.1M114.4 189H145.8M167.2 189H200" stroke="#222" stroke-width="1.3"/>
<text transform="translate(69.50 197.90) scale(1 1.08)" font-size="7.85" text-anchor="middle">ARVAC CG</text>
<text transform="translate(69.40 207.90) scale(1 1.08)" font-size="7.85" text-anchor="middle">25 µg</text>
<text transform="translate(131.70 197.90) scale(1 1.08)" font-size="7.85" text-anchor="middle">ARVAC CG</text>
<text transform="translate(131.90 207.90) scale(1 1.08)" font-size="7.85" text-anchor="middle">50 µg</text>
<text transform="translate(184.70 199.80) scale(1 1.08)" font-size="7.6" text-anchor="middle">BNT162b2</text>
<path d="M53.2 138.67V157.59M50.90 138.67h4.6M50.90 157.59h4.6" stroke="#3a9cc8" stroke-width="0.9" fill="none"/>
<path d="M47.60 148.20h11.2" stroke="#000" stroke-width="1.3"/>
<circle cx="53.20" cy="118.37" r="2.2" fill="#127c9e"/>
<circle cx="53.20" cy="118.37" r="1.2" fill="#58aaff" stroke="#3a9ae0" stroke-width="0.3"/>
<circle cx="53.20" cy="126.06" r="2.2" fill="#127c9e"/>
<circle cx="53.20" cy="126.06" r="1.2" fill="#58aaff" stroke="#3a9ae0" stroke-width="0.3"/>
<circle cx="52.65" cy="133.75" r="2.2" fill="#127c9e"/>
<circle cx="53.75" cy="133.75" r="2.2" fill="#127c9e"/>
<circle cx="52.65" cy="133.75" r="1.2" fill="#58aaff" stroke="#3a9ae0" stroke-width="0.3"/>
<circle cx="53.75" cy="133.75" r="1.2" fill="#58aaff" stroke="#3a9ae0" stroke-width="0.3"/>
<circle cx="52.65" cy="141.44" r="2.2" fill="#127c9e"/>
<circle cx="53.75" cy="141.44" r="2.2" fill="#127c9e"/>
<circle cx="52.65" cy="141.44" r="1.2" fill="#58aaff" stroke="#3a9ae0" stroke-width="0.3"/>
<circle cx="53.75" cy="141.44" r="1.2" fill="#58aaff" stroke="#3a9ae0" stroke-width="0.3"/>
<circle cx="52.35" cy="149.13" r="2.2" fill="#127c9e"/>
<circle cx="54.05" cy="149.13" r="2.2" fill="#127c9e"/>
<circle cx="52.35" cy="149.13" r="1.2" fill="#58aaff" stroke="#3a9ae0" stroke-width="0.3"/>
<circle cx="54.05" cy="149.13" r="1.2" fill="#58aaff" stroke="#3a9ae0" stroke-width="0.3"/>
<circle cx="50.10" cy="156.82" r="2.2" fill="#127c9e"/>
<circle cx="52.17" cy="156.82" r="2.2" fill="#127c9e"/>
<circle cx="54.23" cy="156.82" r="2.2" fill="#127c9e"/>
<circle cx="56.30" cy="156.82" r="2.2" fill="#127c9e"/>
<circle cx="50.10" cy="156.82" r="1.2" fill="#58aaff" stroke="#3a9ae0" stroke-width="0.3"/>
<circle cx="52.17" cy="156.82" r="1.2" fill="#58aaff" stroke="#3a9ae0" stroke-width="0.3"/>
<circle cx="54.23" cy="156.82" r="1.2" fill="#58aaff" stroke="#3a9ae0" stroke-width="0.3"/>
<circle cx="56.30" cy="156.82" r="1.2" fill="#58aaff" stroke="#3a9ae0" stroke-width="0.3"/>
<path d="M69.7 108.37V139.90M67.40 108.37h4.6M67.40 139.90h4.6" stroke="#3a9cc8" stroke-width="0.9" fill="none"/>
<path d="M64.10 124.20h11.2" stroke="#000" stroke-width="1.3"/>
<circle cx="69.70" cy="95.30" r="2.2" fill="#127c9e"/>
<circle cx="69.70" cy="95.30" r="1.2" fill="#58aaff" stroke="#3a9ae0" stroke-width="0.3"/>
<circle cx="69.70" cy="102.99" r="2.2" fill="#127c9e"/>
<circle cx="69.70" cy="102.99" r="1.2" fill="#58aaff" stroke="#3a9ae0" stroke-width="0.3"/>
<circle cx="68.45" cy="110.68" r="2.2" fill="#127c9e"/>
<circle cx="70.95" cy="110.68" r="2.2" fill="#127c9e"/>
<circle cx="68.45" cy="110.68" r="1.2" fill="#58aaff" stroke="#3a9ae0" stroke-width="0.3"/>
<circle cx="70.95" cy="110.68" r="1.2" fill="#58aaff" stroke="#3a9ae0" stroke-width="0.3"/>
<circle cx="67.80" cy="118.37" r="2.2" fill="#127c9e"/>
<circle cx="69.70" cy="118.37" r="2.2" fill="#127c9e"/>
<circle cx="71.60" cy="118.37" r="2.2" fill="#127c9e"/>
<circle cx="67.80" cy="118.37" r="1.2" fill="#58aaff" stroke="#3a9ae0" stroke-width="0.3"/>
<circle cx="69.70" cy="118.37" r="1.2" fill="#58aaff" stroke="#3a9ae0" stroke-width="0.3"/>
<circle cx="71.60" cy="118.37" r="1.2" fill="#58aaff" stroke="#3a9ae0" stroke-width="0.3"/>
<circle cx="66.50" cy="126.06" r="2.2" fill="#127c9e"/>
<circle cx="68.63" cy="126.06" r="2.2" fill="#127c9e"/>
<circle cx="70.77" cy="126.06" r="2.2" fill="#127c9e"/>
<circle cx="72.90" cy="126.06" r="2.2" fill="#127c9e"/>
<circle cx="66.50" cy="126.06" r="1.2" fill="#58aaff" stroke="#3a9ae0" stroke-width="0.3"/>
<circle cx="68.63" cy="126.06" r="1.2" fill="#58aaff" stroke="#3a9ae0" stroke-width="0.3"/>
<circle cx="70.77" cy="126.06" r="1.2" fill="#58aaff" stroke="#3a9ae0" stroke-width="0.3"/>
<circle cx="72.90" cy="126.06" r="1.2" fill="#58aaff" stroke="#3a9ae0" stroke-width="0.3"/>
<circle cx="68.85" cy="133.75" r="2.2" fill="#127c9e"/>
<circle cx="70.55" cy="133.75" r="2.2" fill="#127c9e"/>
<circle cx="68.85" cy="133.75" r="1.2" fill="#58aaff" stroke="#3a9ae0" stroke-width="0.3"/>
<circle cx="70.55" cy="133.75" r="1.2" fill="#58aaff" stroke="#3a9ae0" stroke-width="0.3"/>
<circle cx="68.85" cy="141.44" r="2.2" fill="#127c9e"/>
<circle cx="70.55" cy="141.44" r="2.2" fill="#127c9e"/>
<circle cx="68.85" cy="141.44" r="1.2" fill="#58aaff" stroke="#3a9ae0" stroke-width="0.3"/>
<circle cx="70.55" cy="141.44" r="1.2" fill="#58aaff" stroke="#3a9ae0" stroke-width="0.3"/>
<circle cx="69.10" cy="149.13" r="2.2" fill="#127c9e"/>
<circle cx="70.30" cy="149.13" r="2.2" fill="#127c9e"/>
<circle cx="69.10" cy="149.13" r="1.2" fill="#58aaff" stroke="#3a9ae0" stroke-width="0.3"/>
<circle cx="70.30" cy="149.13" r="1.2" fill="#58aaff" stroke="#3a9ae0" stroke-width="0.3"/>
<circle cx="69.70" cy="156.82" r="2.2" fill="#127c9e"/>
<circle cx="69.70" cy="156.82" r="1.2" fill="#58aaff" stroke="#3a9ae0" stroke-width="0.3"/>
<path d="M86.4 104.53V136.83M84.10 104.53h4.6M84.10 136.83h4.6" stroke="#3a9cc8" stroke-width="0.9" fill="none"/>
<path d="M80.80 120.76h11.2" stroke="#000" stroke-width="1.3"/>
<circle cx="85.80" cy="102.99" r="2.2" fill="#127c9e"/>
<circle cx="87.00" cy="102.99" r="2.2" fill="#127c9e"/>
<circle cx="85.80" cy="102.99" r="1.2" fill="#58aaff" stroke="#3a9ae0" stroke-width="0.3"/>
<circle cx="87.00" cy="102.99" r="1.2" fill="#58aaff" stroke="#3a9ae0" stroke-width="0.3"/>
<circle cx="84.90" cy="110.68" r="2.2" fill="#127c9e"/>
<circle cx="86.40" cy="110.68" r="2.2" fill="#127c9e"/>
<circle cx="87.90" cy="110.68" r="2.2" fill="#127c9e"/>
<circle cx="84.90" cy="110.68" r="1.2" fill="#58aaff" stroke="#3a9ae0" stroke-width="0.3"/>
<circle cx="86.40" cy="110.68" r="1.2" fill="#58aaff" stroke="#3a9ae0" stroke-width="0.3"/>
<circle cx="87.90" cy="110.68" r="1.2" fill="#58aaff" stroke="#3a9ae0" stroke-width="0.3"/>
<circle cx="83.65" cy="118.37" r="2.2" fill="#127c9e"/>
<circle cx="85.48" cy="118.37" r="2.2" fill="#127c9e"/>
<circle cx="87.32" cy="118.37" r="2.2" fill="#127c9e"/>
<circle cx="89.15" cy="118.37" r="2.2" fill="#127c9e"/>
<circle cx="83.65" cy="118.37" r="1.2" fill="#58aaff" stroke="#3a9ae0" stroke-width="0.3"/>
<circle cx="85.48" cy="118.37" r="1.2" fill="#58aaff" stroke="#3a9ae0" stroke-width="0.3"/>
<circle cx="87.32" cy="118.37" r="1.2" fill="#58aaff" stroke="#3a9ae0" stroke-width="0.3"/>
<circle cx="89.15" cy="118.37" r="1.2" fill="#58aaff" stroke="#3a9ae0" stroke-width="0.3"/>
<circle cx="84.55" cy="126.06" r="2.2" fill="#127c9e"/>
<circle cx="86.40" cy="126.06" r="2.2" fill="#127c9e"/>
<circle cx="88.25" cy="126.06" r="2.2" fill="#127c9e"/>
<circle cx="84.55" cy="126.06" r="1.2" fill="#58aaff" stroke="#3a9ae0" stroke-width="0.3"/>
<circle cx="86.40" cy="126.06" r="1.2" fill="#58aaff" stroke="#3a9ae0" stroke-width="0.3"/>
<circle cx="88.25" cy="126.06" r="1.2" fill="#58aaff" stroke="#3a9ae0" stroke-width="0.3"/>
<circle cx="85.60" cy="133.75" r="2.2" fill="#127c9e"/>
<circle cx="87.20" cy="133.75" r="2.2" fill="#127c9e"/>
<circle cx="85.60" cy="133.75" r="1.2" fill="#58aaff" stroke="#3a9ae0" stroke-width="0.3"/>
<circle cx="87.20" cy="133.75" r="1.2" fill="#58aaff" stroke="#3a9ae0" stroke-width="0.3"/>
<circle cx="86.40" cy="141.44" r="2.2" fill="#127c9e"/>
<circle cx="86.40" cy="141.44" r="1.2" fill="#58aaff" stroke="#3a9ae0" stroke-width="0.3"/>
<circle cx="86.40" cy="149.13" r="2.2" fill="#127c9e"/>
<circle cx="86.40" cy="149.13" r="1.2" fill="#58aaff" stroke="#3a9ae0" stroke-width="0.3"/>
<circle cx="86.40" cy="156.82" r="2.2" fill="#127c9e"/>
<circle cx="86.40" cy="156.82" r="1.2" fill="#58aaff" stroke="#3a9ae0" stroke-width="0.3"/>
<path d="M114.1 140.67V160.51M111.80 140.67h4.6M111.80 160.51h4.6" stroke="#3a3aea" stroke-width="0.9" fill="none"/>
<path d="M108.50 149.98h11.2" stroke="#000" stroke-width="1.3"/>
<circle cx="114.10" cy="118.37" r="2.2" fill="#1a1ad0"/>
<circle cx="114.10" cy="118.37" r="1.2" fill="#5050ff" stroke="#3434ee" stroke-width="0.3"/>
<circle cx="114.10" cy="133.75" r="2.2" fill="#1a1ad0"/>
<circle cx="114.10" cy="133.75" r="1.2" fill="#5050ff" stroke="#3434ee" stroke-width="0.3"/>
<circle cx="113.25" cy="141.44" r="2.2" fill="#1a1ad0"/>
<circle cx="114.95" cy="141.44" r="2.2" fill="#1a1ad0"/>
<circle cx="113.25" cy="141.44" r="1.2" fill="#5050ff" stroke="#3434ee" stroke-width="0.3"/>
<circle cx="114.95" cy="141.44" r="1.2" fill="#5050ff" stroke="#3434ee" stroke-width="0.3"/>
<circle cx="111.25" cy="149.13" r="2.2" fill="#1a1ad0"/>
<circle cx="113.15" cy="149.13" r="2.2" fill="#1a1ad0"/>
<circle cx="115.05" cy="149.13" r="2.2" fill="#1a1ad0"/>
<circle cx="116.95" cy="149.13" r="2.2" fill="#1a1ad0"/>
<circle cx="111.25" cy="149.13" r="1.2" fill="#5050ff" stroke="#3434ee" stroke-width="0.3"/>
<circle cx="113.15" cy="149.13" r="1.2" fill="#5050ff" stroke="#3434ee" stroke-width="0.3"/>
<circle cx="115.05" cy="149.13" r="1.2" fill="#5050ff" stroke="#3434ee" stroke-width="0.3"/>
<circle cx="116.95" cy="149.13" r="1.2" fill="#5050ff" stroke="#3434ee" stroke-width="0.3"/>
<circle cx="111.25" cy="156.82" r="2.2" fill="#1a1ad0"/>
<circle cx="113.15" cy="156.82" r="2.2" fill="#1a1ad0"/>
<circle cx="115.05" cy="156.82" r="2.2" fill="#1a1ad0"/>
<circle cx="116.95" cy="156.82" r="2.2" fill="#1a1ad0"/>
<circle cx="111.25" cy="156.82" r="1.2" fill="#5050ff" stroke="#3434ee" stroke-width="0.3"/>
<circle cx="113.15" cy="156.82" r="1.2" fill="#5050ff" stroke="#3434ee" stroke-width="0.3"/>
<circle cx="115.05" cy="156.82" r="1.2" fill="#5050ff" stroke="#3434ee" stroke-width="0.3"/>
<circle cx="116.95" cy="156.82" r="1.2" fill="#5050ff" stroke="#3434ee" stroke-width="0.3"/>
<path d="M130.7 102.99V138.36M128.40 102.99h4.6M128.40 138.36h4.6" stroke="#3a3aea" stroke-width="0.9" fill="none"/>
<path d="M125.10 120.93h11.2" stroke="#000" stroke-width="1.3"/>
<circle cx="130.70" cy="87.61" r="2.2" fill="#1a1ad0"/>
<circle cx="130.70" cy="87.61" r="1.2" fill="#5050ff" stroke="#3434ee" stroke-width="0.3"/>
<circle cx="130.70" cy="95.30" r="2.2" fill="#1a1ad0"/>
<circle cx="130.70" cy="95.30" r="1.2" fill="#5050ff" stroke="#3434ee" stroke-width="0.3"/>
<circle cx="130.70" cy="102.99" r="2.2" fill="#1a1ad0"/>
<circle cx="130.70" cy="102.99" r="1.2" fill="#5050ff" stroke="#3434ee" stroke-width="0.3"/>
<circle cx="128.80" cy="110.68" r="2.2" fill="#1a1ad0"/>
<circle cx="130.70" cy="110.68" r="2.2" fill="#1a1ad0"/>
<circle cx="132.60" cy="110.68" r="2.2" fill="#1a1ad0"/>
<circle cx="128.80" cy="110.68" r="1.2" fill="#5050ff" stroke="#3434ee" stroke-width="0.3"/>
<circle cx="130.70" cy="110.68" r="1.2" fill="#5050ff" stroke="#3434ee" stroke-width="0.3"/>
<circle cx="132.60" cy="110.68" r="1.2" fill="#5050ff" stroke="#3434ee" stroke-width="0.3"/>
<circle cx="127.45" cy="118.37" r="2.2" fill="#1a1ad0"/>
<circle cx="129.62" cy="118.37" r="2.2" fill="#1a1ad0"/>
<circle cx="131.78" cy="118.37" r="2.2" fill="#1a1ad0"/>
<circle cx="133.95" cy="118.37" r="2.2" fill="#1a1ad0"/>
<circle cx="127.45" cy="118.37" r="1.2" fill="#5050ff" stroke="#3434ee" stroke-width="0.3"/>
<circle cx="129.62" cy="118.37" r="1.2" fill="#5050ff" stroke="#3434ee" stroke-width="0.3"/>
<circle cx="131.78" cy="118.37" r="1.2" fill="#5050ff" stroke="#3434ee" stroke-width="0.3"/>
<circle cx="133.95" cy="118.37" r="1.2" fill="#5050ff" stroke="#3434ee" stroke-width="0.3"/>
<circle cx="129.95" cy="126.06" r="2.2" fill="#1a1ad0"/>
<circle cx="131.45" cy="126.06" r="2.2" fill="#1a1ad0"/>
<circle cx="129.95" cy="126.06" r="1.2" fill="#5050ff" stroke="#3434ee" stroke-width="0.3"/>
<circle cx="131.45" cy="126.06" r="1.2" fill="#5050ff" stroke="#3434ee" stroke-width="0.3"/>
<circle cx="127.35" cy="133.75" r="2.2" fill="#1a1ad0"/>
<circle cx="129.58" cy="133.75" r="2.2" fill="#1a1ad0"/>
<circle cx="131.82" cy="133.75" r="2.2" fill="#1a1ad0"/>
<circle cx="134.05" cy="133.75" r="2.2" fill="#1a1ad0"/>
<circle cx="127.35" cy="133.75" r="1.2" fill="#5050ff" stroke="#3434ee" stroke-width="0.3"/>
<circle cx="129.58" cy="133.75" r="1.2" fill="#5050ff" stroke="#3434ee" stroke-width="0.3"/>
<circle cx="131.82" cy="133.75" r="1.2" fill="#5050ff" stroke="#3434ee" stroke-width="0.3"/>
<circle cx="134.05" cy="133.75" r="1.2" fill="#5050ff" stroke="#3434ee" stroke-width="0.3"/>
<circle cx="130.70" cy="141.44" r="2.2" fill="#1a1ad0"/>
<circle cx="130.70" cy="141.44" r="1.2" fill="#5050ff" stroke="#3434ee" stroke-width="0.3"/>
<circle cx="130.70" cy="156.82" r="2.2" fill="#1a1ad0"/>
<circle cx="130.70" cy="156.82" r="1.2" fill="#5050ff" stroke="#3434ee" stroke-width="0.3"/>
<path d="M147.0 106.07V139.13M144.70 106.07h4.6M144.70 139.13h4.6" stroke="#3a3aea" stroke-width="0.9" fill="none"/>
<path d="M141.40 123.07h11.2" stroke="#000" stroke-width="1.3"/>
<circle cx="147.00" cy="102.99" r="2.2" fill="#1a1ad0"/>
<circle cx="147.00" cy="102.99" r="1.2" fill="#5050ff" stroke="#3434ee" stroke-width="0.3"/>
<circle cx="145.65" cy="110.68" r="2.2" fill="#1a1ad0"/>
<circle cx="148.35" cy="110.68" r="2.2" fill="#1a1ad0"/>
<circle cx="145.65" cy="110.68" r="1.2" fill="#5050ff" stroke="#3434ee" stroke-width="0.3"/>
<circle cx="148.35" cy="110.68" r="1.2" fill="#5050ff" stroke="#3434ee" stroke-width="0.3"/>
<circle cx="143.95" cy="118.37" r="2.2" fill="#1a1ad0"/>
<circle cx="145.98" cy="118.37" r="2.2" fill="#1a1ad0"/>
<circle cx="148.02" cy="118.37" r="2.2" fill="#1a1ad0"/>
<circle cx="150.05" cy="118.37" r="2.2" fill="#1a1ad0"/>
<circle cx="143.95" cy="118.37" r="1.2" fill="#5050ff" stroke="#3434ee" stroke-width="0.3"/>
<circle cx="145.98" cy="118.37" r="1.2" fill="#5050ff" stroke="#3434ee" stroke-width="0.3"/>
<circle cx="148.02" cy="118.37" r="1.2" fill="#5050ff" stroke="#3434ee" stroke-width="0.3"/>
<circle cx="150.05" cy="118.37" r="1.2" fill="#5050ff" stroke="#3434ee" stroke-width="0.3"/>
<circle cx="145.65" cy="126.06" r="2.2" fill="#1a1ad0"/>
<circle cx="148.35" cy="126.06" r="2.2" fill="#1a1ad0"/>
<circle cx="145.65" cy="126.06" r="1.2" fill="#5050ff" stroke="#3434ee" stroke-width="0.3"/>
<circle cx="148.35" cy="126.06" r="1.2" fill="#5050ff" stroke="#3434ee" stroke-width="0.3"/>
<circle cx="146.40" cy="133.75" r="2.2" fill="#1a1ad0"/>
<circle cx="147.60" cy="133.75" r="2.2" fill="#1a1ad0"/>
<circle cx="146.40" cy="133.75" r="1.2" fill="#5050ff" stroke="#3434ee" stroke-width="0.3"/>
<circle cx="147.60" cy="133.75" r="1.2" fill="#5050ff" stroke="#3434ee" stroke-width="0.3"/>
<circle cx="147.00" cy="141.44" r="2.2" fill="#1a1ad0"/>
<circle cx="147.00" cy="141.44" r="1.2" fill="#5050ff" stroke="#3434ee" stroke-width="0.3"/>
<circle cx="147.00" cy="156.82" r="2.2" fill="#1a1ad0"/>
<circle cx="147.00" cy="156.82" r="1.2" fill="#5050ff" stroke="#3434ee" stroke-width="0.3"/>
<path d="M174.7 139.90V162.36M172.40 139.90h4.6M172.40 162.36h4.6" stroke="#a040d0" stroke-width="0.9" fill="none"/>
<path d="M169.10 152.55h11.2" stroke="#000" stroke-width="1.3"/>
<circle cx="174.70" cy="126.06" r="2.2" fill="#8418b0"/>
<circle cx="174.70" cy="126.06" r="1.2" fill="#bc64ec" stroke="#a040d4" stroke-width="0.3"/>
<circle cx="174.70" cy="141.44" r="2.2" fill="#8418b0"/>
<circle cx="174.70" cy="141.44" r="1.2" fill="#bc64ec" stroke="#a040d4" stroke-width="0.3"/>
<circle cx="171.55" cy="156.82" r="2.2" fill="#8418b0"/>
<circle cx="173.65" cy="156.82" r="2.2" fill="#8418b0"/>
<circle cx="175.75" cy="156.82" r="2.2" fill="#8418b0"/>
<circle cx="177.85" cy="156.82" r="2.2" fill="#8418b0"/>
<circle cx="171.55" cy="156.82" r="1.2" fill="#bc64ec" stroke="#a040d4" stroke-width="0.3"/>
<circle cx="173.65" cy="156.82" r="1.2" fill="#bc64ec" stroke="#a040d4" stroke-width="0.3"/>
<circle cx="175.75" cy="156.82" r="1.2" fill="#bc64ec" stroke="#a040d4" stroke-width="0.3"/>
<circle cx="177.85" cy="156.82" r="1.2" fill="#bc64ec" stroke="#a040d4" stroke-width="0.3"/>
<path d="M191.4 129.14V152.97M189.10 129.14h4.6M189.10 152.97h4.6" stroke="#a040d0" stroke-width="0.9" fill="none"/>
<path d="M185.80 141.01h11.2" stroke="#000" stroke-width="1.3"/>
<circle cx="191.40" cy="118.37" r="2.2" fill="#8418b0"/>
<circle cx="191.40" cy="118.37" r="1.2" fill="#bc64ec" stroke="#a040d4" stroke-width="0.3"/>
<circle cx="190.85" cy="126.06" r="2.2" fill="#8418b0"/>
<circle cx="191.95" cy="126.06" r="2.2" fill="#8418b0"/>
<circle cx="190.85" cy="126.06" r="1.2" fill="#bc64ec" stroke="#a040d4" stroke-width="0.3"/>
<circle cx="191.95" cy="126.06" r="1.2" fill="#bc64ec" stroke="#a040d4" stroke-width="0.3"/>
<circle cx="190.85" cy="133.75" r="2.2" fill="#8418b0"/>
<circle cx="191.95" cy="133.75" r="2.2" fill="#8418b0"/>
<circle cx="190.85" cy="133.75" r="1.2" fill="#bc64ec" stroke="#a040d4" stroke-width="0.3"/>
<circle cx="191.95" cy="133.75" r="1.2" fill="#bc64ec" stroke="#a040d4" stroke-width="0.3"/>
<circle cx="188.25" cy="141.44" r="2.2" fill="#8418b0"/>
<circle cx="190.35" cy="141.44" r="2.2" fill="#8418b0"/>
<circle cx="192.45" cy="141.44" r="2.2" fill="#8418b0"/>
<circle cx="194.55" cy="141.44" r="2.2" fill="#8418b0"/>
<circle cx="188.25" cy="141.44" r="1.2" fill="#bc64ec" stroke="#a040d4" stroke-width="0.3"/>
<circle cx="190.35" cy="141.44" r="1.2" fill="#bc64ec" stroke="#a040d4" stroke-width="0.3"/>
<circle cx="192.45" cy="141.44" r="1.2" fill="#bc64ec" stroke="#a040d4" stroke-width="0.3"/>
<circle cx="194.55" cy="141.44" r="1.2" fill="#bc64ec" stroke="#a040d4" stroke-width="0.3"/>
<circle cx="189.75" cy="149.13" r="2.2" fill="#8418b0"/>
<circle cx="191.40" cy="149.13" r="2.2" fill="#8418b0"/>
<circle cx="193.05" cy="149.13" r="2.2" fill="#8418b0"/>
<circle cx="189.75" cy="149.13" r="1.2" fill="#bc64ec" stroke="#a040d4" stroke-width="0.3"/>
<circle cx="191.40" cy="149.13" r="1.2" fill="#bc64ec" stroke="#a040d4" stroke-width="0.3"/>
<circle cx="193.05" cy="149.13" r="1.2" fill="#bc64ec" stroke="#a040d4" stroke-width="0.3"/>
<circle cx="191.40" cy="156.82" r="2.2" fill="#8418b0"/>
<circle cx="191.40" cy="156.82" r="1.2" fill="#bc64ec" stroke="#a040d4" stroke-width="0.3"/>
</g>
<path d="M71.1 36.4V34.6H191.7V36.4" stroke="#3a3a3a" stroke-width="0.95" fill="none"/>
<text x="134.5" y="32.60" font-size="6.6" text-anchor="middle">ns</text>
<path d="M88.5 43.099999999999994V41.3H191.7V43.099999999999994" stroke="#3a3a3a" stroke-width="0.95" fill="none"/>
<text x="139" y="40.30" font-size="6.6" text-anchor="middle">ns</text>
<path d="M130.4 51.3V49.5H191.7V51.3" stroke="#9a9a9a" stroke-width="0.95" fill="none"/>
<text x="160.4" y="48.50" font-size="6.6" text-anchor="middle">ns</text>
<path d="M146.1 59.5V57.7H191.7V59.5" stroke="#9a9a9a" stroke-width="0.95" fill="none"/>
<text x="168.8" y="56.70" font-size="6.6" text-anchor="middle">ns</text>
<path d="M284.5 35.4V33.6H405.1V35.4" stroke="#3a3a3a" stroke-width="0.95" fill="none"/>
<text x="345.8" y="31.60" font-size="6.3" text-anchor="middle">P &lt;0.0001</text>
<path d="M302.5 42.099999999999994V40.3H405.1V42.099999999999994" stroke="#3a3a3a" stroke-width="0.95" fill="none"/>
<text x="351.1" y="39.30" font-size="6.4" text-anchor="middle">P=0.0016</text>
<path d="M343.8 49.3V47.5H405.1V49.3" stroke="#3a3a3a" stroke-width="0.95" fill="none"/>
<text x="376" y="46.50" font-size="5.8" text-anchor="middle">P=0.0006</text>
<path d="M359.7 57.0V55.2H405.1V57.0" stroke="#999" stroke-width="0.95" fill="none"/>
<text x="382.2" y="54.20" font-size="6.6" text-anchor="middle">ns</text>
<path d="M499.1 41.4V39.6H616.6V41.4" stroke="#444" stroke-width="0.95" fill="none"/>
<text x="559.4" y="37.60" font-size="6.3" text-anchor="middle">P=0.0472</text>
<path d="M516.5 48.099999999999994V46.3H616.6V48.099999999999994" stroke="#444" stroke-width="0.95" fill="none"/>
<text x="564.1" y="45.30" font-size="6.3" text-anchor="middle">P=0.0146</text>
<path d="M556.7 54.9V53.1H616.6V54.9" stroke="#444" stroke-width="0.95" fill="none"/>
<text x="588" y="52.10" font-size="6.4" text-anchor="middle">ns</text>
<path d="M572 62.5V60.7H616.6V62.5" stroke="#444" stroke-width="0.95" fill="none"/>
<text x="594.7" y="59.70" font-size="6.4" text-anchor="middle">ns</text>
<path d="M71.1 260.5V258.7H191.7V260.5" stroke="#3a3a3a" stroke-width="0.95" fill="none"/>
<text x="132.4" y="256.70" font-size="6.5" text-anchor="middle">P&lt;0.0001</text>
<path d="M88.5 267.2V265.4H191.7V267.2" stroke="#3a3a3a" stroke-width="0.95" fill="none"/>
<text x="137.6" y="264.40" font-size="6.5" text-anchor="middle">P=0.0003</text>
<path d="M130.4 274.40000000000003V272.6H191.7V274.40000000000003" stroke="#3a3a3a" stroke-width="0.95" fill="none"/>
<text x="162.7" y="271.60" font-size="6.5" text-anchor="middle">P&lt;0.0001</text>
<path d="M146.1 282.0V280.2H191.7V282.0" stroke="#666" stroke-width="0.95" fill="none"/>
<text x="167.2" y="279.20" font-size="6.5" text-anchor="middle">P=0.0033</text>
<path d="M279.2 271.5V269.7H392.6V271.5" stroke="#3a3a3a" stroke-width="0.95" fill="none"/>
<text x="337.4" y="267.70" font-size="6.2" text-anchor="middle">P=0.049</text>
<path d="M296.2 278.3V276.5H392.6V278.3" stroke="#3a3a3a" stroke-width="0.95" fill="none"/>
<text x="341.9" y="275.50" font-size="6.2" text-anchor="middle">P=0.0002</text>
<path d="M335.4 284.8V283H392.6V284.8" stroke="#3a3a3a" stroke-width="0.95" fill="none"/>
<text x="365" y="282.00" font-size="6.2" text-anchor="middle">P=0.0110</text>
<path d="M349.3 292.0V290.2H392.6V292.0" stroke="#444" stroke-width="0.95" fill="none"/>
<text x="370.1" y="289.20" font-size="6.2" text-anchor="middle">P=0.0171</text>
<text x="52.9" y="94.90" font-size="6.5" text-anchor="middle">69.58</text>
<text x="69.9" y="61.50" font-size="6.5" text-anchor="middle">876.7</text>
<text x="88" y="69.60" font-size="6.5" text-anchor="middle">642.5</text>
<text x="113.1" y="95.60" font-size="6.5" text-anchor="middle">27.43</text>
<text x="129.8" y="61.90" font-size="6.5" text-anchor="middle">912.3</text>
<text x="147.2" y="69.10" font-size="6.5" text-anchor="middle">391.0</text>
<text x="174" y="91.40" font-size="6.5" text-anchor="middle">34.56</text>
<text x="192" y="82.30" font-size="6.5" text-anchor="middle">492.7</text>
<text x="268.2" y="85.00" font-size="6.5" text-anchor="middle">52.23</text>
<text x="286.9" y="61.80" font-size="6.5" text-anchor="middle">866.2</text>
<text x="303.5" y="69.20" font-size="6.5" text-anchor="middle">443.6</text>
<text x="331.6" y="106.70" font-size="6.5" text-anchor="middle">25.40</text>
<text x="350.4" y="61.80" font-size="6.5" text-anchor="middle">844.7</text>
<text x="369.6" y="76.60" font-size="6.5" text-anchor="middle">322.5</text>
<text x="385.7" y="101.80" font-size="6.5" text-anchor="middle">10.48</text>
<text x="403.5" y="98.20" font-size="6.5" text-anchor="middle">90.51</text>
<text x="53.5" y="320.60" font-size="6.5" text-anchor="middle">33.57</text>
<text x="70.9" y="281.60" font-size="6.5" text-anchor="middle">448.9</text>
<text x="89.4" y="290.30" font-size="6.5" text-anchor="middle">299.0</text>
<text x="113.1" y="304.80" font-size="6.5" text-anchor="middle">23.52</text>
<text x="131.2" y="288.70" font-size="6.5" text-anchor="middle">724.1</text>
<text x="148.2" y="297.30" font-size="6.5" text-anchor="middle">335.2</text>
<text x="175.1" y="318.90" font-size="6.5" text-anchor="middle">8.960</text>
<text x="193.5" y="320.50" font-size="6.5" text-anchor="middle">40.32</text>
<text x="482.5" y="103.30" font-size="6.3" text-anchor="middle">38.74</text>
<text x="499.2" y="65.90" font-size="6.3" text-anchor="middle">448.9</text>
<text x="517.4" y="73.00" font-size="6.3" text-anchor="middle">518.2</text>
<text x="546.8" y="104.10" font-size="6.3" text-anchor="middle">23.52</text>
<text x="558" y="73.70" font-size="6.3" text-anchor="middle">456.1</text>
<text x="574" y="87.30" font-size="6.3" text-anchor="middle">492.7</text>
<text x="597.2" y="111.50" font-size="6.3" text-anchor="middle">10.48</text>
<text x="615.6" y="89.80" font-size="6.3" text-anchor="middle">138.2</text>
<text x="263" y="332.90" font-size="6.1" text-anchor="middle">8.698</text>
<text x="279.3" y="312.10" font-size="6.1" text-anchor="middle">75.66</text>
<text x="295.5" y="320.70" font-size="6.1" text-anchor="middle">103.2</text>
<text x="319.9" y="333.90" font-size="6.1" text-anchor="middle">7.407</text>
<text x="336.5" y="305.50" font-size="6.1" text-anchor="middle">101.6</text>
<text x="352.9" y="319.10" font-size="6.1" text-anchor="middle">83.80</text>
<text x="377.2" y="342.30" font-size="6.1" text-anchor="middle">5.879</text>
<text x="393" y="335.00" font-size="6.1" text-anchor="middle">16.63</text>
<path d="M497.7 242.9H684V402M497.7 242.9V402.6" stroke="#111" stroke-width="1.8" fill="none"/>
<path d="M497.7 275.1H684" stroke="#111" stroke-width="1.7"/>
<path d="M497.7 308.2H684" stroke="#111" stroke-width="1.7"/>
<path d="M497.7 340.1H684" stroke="#111" stroke-width="1.7"/>
<path d="M497.7 372.0H684" stroke="#111" stroke-width="1.7"/>
<path d="M497 402H684.7" stroke="#111" stroke-width="1.7"/>
<path d="M498.00 402V407.6" stroke="#111" stroke-width="1.3"/>
<text x="498.00" y="415.8" font-size="6.6" font-weight="bold" text-anchor="middle">1</text>
<path d="M519.45 402V407.6" stroke="#111" stroke-width="1.3"/>
<text x="519.45" y="415.8" font-size="6.6" font-weight="bold" text-anchor="middle">2</text>
<path d="M540.90 402V407.6" stroke="#111" stroke-width="1.3"/>
<text x="540.90" y="415.8" font-size="6.6" font-weight="bold" text-anchor="middle">4</text>
<path d="M562.35 402V407.6" stroke="#111" stroke-width="1.3"/>
<text x="562.35" y="415.8" font-size="6.6" font-weight="bold" text-anchor="middle">8</text>
<path d="M583.80 402V407.6" stroke="#111" stroke-width="1.3"/>
<text x="583.80" y="415.8" font-size="6.6" font-weight="bold" text-anchor="middle">16</text>
<path d="M605.25 402V407.6" stroke="#111" stroke-width="1.3"/>
<text x="605.25" y="415.8" font-size="6.6" font-weight="bold" text-anchor="middle">32</text>
<path d="M626.70 402V407.6" stroke="#111" stroke-width="1.3"/>
<text x="626.70" y="415.8" font-size="6.6" font-weight="bold" text-anchor="middle">64</text>
<path d="M648.15 402V407.6" stroke="#111" stroke-width="1.3"/>
<text x="648.15" y="415.8" font-size="6.6" font-weight="bold" text-anchor="middle">128</text>
<path d="M669.60 402V407.6" stroke="#111" stroke-width="1.3"/>
<text x="669.60" y="415.8" font-size="6.6" font-weight="bold" text-anchor="middle">256</text>
<text x="590.9" y="430.8" font-size="9.9" text-anchor="middle">GMFR</text>
<text x="499.2" y="272.7" font-size="7.5" font-weight="bold">Ancestral</text>
<path d="M492 251.2H497.7" stroke="#111" stroke-width="1.2"/>
<text x="489.2" y="253.60" font-size="6.7" text-anchor="end">BNT162b2 d28</text>
<path d="M558.22 251.2H602.31M558.22 249.2v4M602.31 249.2v4" stroke="#8c22b4" stroke-width="1.3" fill="none"/>
<circle cx="580.32" cy="251.2" r="2.3" fill="#b464dc" stroke="#8c22b4" stroke-width="1.2"/>
<text x="603.70" y="253.70" font-size="7"><tspan font-weight="bold">14.3</tspan>× (7.0 - 29.1)</text>
<path d="M492 259.7H497.7" stroke="#111" stroke-width="1.2"/>
<text x="489.2" y="262.10" font-size="6.7" text-anchor="end">ARVAC CG 50µg d28</text>
<path d="M551.86 259.7H608.37M551.86 257.7v4M608.37 257.7v4" stroke="#1e1ed2" stroke-width="1.3" fill="none"/>
<circle cx="580.32" cy="259.7" r="2.3" fill="#4450f0" stroke="#1e1ed2" stroke-width="1.2"/>
<text x="611.00" y="262.20" font-size="7"><tspan font-weight="bold">14.3</tspan>× (5.7 - 35.4)</text>
<path d="M492 268.2H497.7" stroke="#111" stroke-width="1.2"/>
<text x="489.2" y="270.60" font-size="6.7" text-anchor="end">ARVAC CG 25µg d28</text>
<path d="M555.92 268.2H577.85M555.92 266.2v4M577.85 266.2v4" stroke="#1c8ea6" stroke-width="1.3" fill="none"/>
<circle cx="567.99" cy="268.2" r="2.3" fill="#4aa2f2" stroke="#1c8ea6" stroke-width="1.2"/>
<text x="586.50" y="270.70" font-size="7"><tspan font-weight="bold">9.8</tspan>× (6.5 - 13.2)</text>
<text x="499.2" y="306.3" font-size="7.5" font-weight="bold">Gamma</text>
<path d="M492 283.2H497.7" stroke="#111" stroke-width="1.2"/>
<text x="489.2" y="285.60" font-size="6.7" text-anchor="end">BNT162b2 d21</text>
<path d="M547.18 283.2H582.21M547.18 281.2v4M582.21 281.2v4" stroke="#8c22b4" stroke-width="1.3" fill="none"/>
<circle cx="564.59" cy="283.2" r="2.3" fill="#b464dc" stroke="#8c22b4" stroke-width="1.2"/>
<text x="584.50" y="285.70" font-size="7"><tspan font-weight="bold">8.6</tspan>× (4,9 - 15,2)</text>
<path d="M492 291.7H497.7" stroke="#111" stroke-width="1.2"/>
<text x="489.2" y="294.10" font-size="6.7" text-anchor="end">ARVAC CG 50µg d28</text>
<path d="M548.42 291.7H604.76M548.42 289.7v4M604.76 289.7v4" stroke="#1e1ed2" stroke-width="1.3" fill="none"/>
<circle cx="576.65" cy="291.7" r="2.3" fill="#4450f0" stroke="#1e1ed2" stroke-width="1.2"/>
<text x="607.20" y="294.20" font-size="7"><tspan font-weight="bold">12.7</tspan>× (5.1 - 31.5)</text>
<path d="M492 300.4H497.7" stroke="#111" stroke-width="1.2"/>
<text x="489.2" y="302.80" font-size="6.7" text-anchor="end">ARVAC CG 25µg d28</text>
<path d="M552.40 300.4H575.91M552.40 298.4v4M575.91 298.4v4" stroke="#1c8ea6" stroke-width="1.3" fill="none"/>
<circle cx="564.23" cy="300.4" r="2.3" fill="#4aa2f2" stroke="#1c8ea6" stroke-width="1.2"/>
<text x="578.70" y="302.90" font-size="7"><tspan font-weight="bold">8.5</tspan>× (5.8-12.4)</text>
<text x="499.2" y="338.3" font-size="7.5" font-weight="bold">Delta</text>
<path d="M492 315.0H497.7" stroke="#111" stroke-width="1.2"/>
<text x="489.2" y="317.40" font-size="6.7" text-anchor="end">BNT162b2 d21</text>
<path d="M558.22 315.0H597.49M558.22 313.0v4M597.49 313.0v4" stroke="#8c22b4" stroke-width="1.3" fill="none"/>
<circle cx="577.85" cy="315.0" r="2.3" fill="#b464dc" stroke="#8c22b4" stroke-width="1.2"/>
<text x="599.70" y="317.50" font-size="7"><tspan font-weight="bold">13.2</tspan>× (7.0 - 24.9)</text>
<path d="M492 323.7H497.7" stroke="#111" stroke-width="1.2"/>
<text x="489.2" y="326.10" font-size="6.7" text-anchor="end">ARVAC CG 50µg d28</text>
<path d="M566.68 323.7H617.54M566.68 321.7v4M617.54 321.7v4" stroke="#1e1ed2" stroke-width="1.3" fill="none"/>
<circle cx="592.22" cy="323.7" r="2.3" fill="#4450f0" stroke="#1e1ed2" stroke-width="1.2"/>
<text x="619.50" y="326.20" font-size="7"><tspan font-weight="bold">21.0</tspan>× (9.2 - 47.6)</text>
<path d="M492 332.1H497.7" stroke="#111" stroke-width="1.2"/>
<text x="489.2" y="334.50" font-size="6.7" text-anchor="end">ARVAC CG 25µg d28</text>
<path d="M567.67 332.1H589.28M567.67 330.1v4M589.28 330.1v4" stroke="#1c8ea6" stroke-width="1.3" fill="none"/>
<circle cx="578.31" cy="332.1" r="2.3" fill="#4aa2f2" stroke="#1c8ea6" stroke-width="1.2"/>
<text x="595.00" y="334.60" font-size="7"><tspan font-weight="bold">11.3</tspan>× (5.7 - 22.4)</text>
<text x="499.2" y="370.7" font-size="7.5" font-weight="bold">Omicron BA.1</text>
<path d="M492 346.8H497.7" stroke="#111" stroke-width="1.2"/>
<text x="489.2" y="349.20" font-size="6.7" text-anchor="end">BNT162b2 d21</text>
<path d="M529.86 346.8H558.66M529.86 344.8v4M558.66 344.8v4" stroke="#8c22b4" stroke-width="1.3" fill="none"/>
<circle cx="544.54" cy="346.8" r="2.3" fill="#b464dc" stroke="#8c22b4" stroke-width="1.2"/>
<text x="560.60" y="349.30" font-size="7"><tspan font-weight="bold">4.5</tspan>× (2.8 - 7.1)</text>
<path d="M492 355.2H497.7" stroke="#111" stroke-width="1.2"/>
<text x="489.2" y="357.60" font-size="6.7" text-anchor="end">ARVAC CG 50µg d28</text>
<path d="M552.93 355.2H607.40M552.93 353.2v4M607.40 353.2v4" stroke="#1e1ed2" stroke-width="1.3" fill="none"/>
<circle cx="580.32" cy="355.2" r="2.3" fill="#4450f0" stroke="#1e1ed2" stroke-width="1.2"/>
<text x="609.70" y="357.70" font-size="7"><tspan font-weight="bold">14.3</tspan>× (5.9 - 34.3)</text>
<path d="M492 364.1H497.7" stroke="#111" stroke-width="1.2"/>
<text x="489.2" y="366.50" font-size="6.7" text-anchor="end">ARVAC CG 25µg d28</text>
<path d="M553.96 364.1H577.37M553.96 362.1v4M577.37 362.1v4" stroke="#1c8ea6" stroke-width="1.3" fill="none"/>
<circle cx="565.65" cy="364.1" r="2.3" fill="#4aa2f2" stroke="#1c8ea6" stroke-width="1.2"/>
<text x="578.70" y="366.60" font-size="7"><tspan font-weight="bold">8.9</tspan>× (6.1 - 13.0)</text>
<text x="499.2" y="401.2" font-size="7.5" font-weight="bold">Omicron BA.5</text>
<path d="M492 378.9H497.7" stroke="#111" stroke-width="1.2"/>
<text x="489.2" y="381.30" font-size="6.7" text-anchor="end">BNT162b2 d21</text>
<path d="M516.19 378.9H543.14M516.19 376.9v4M543.14 376.9v4" stroke="#8c22b4" stroke-width="1.3" fill="none"/>
<circle cx="529.86" cy="378.9" r="2.3" fill="#b464dc" stroke="#8c22b4" stroke-width="1.2"/>
<text x="550.50" y="381.40" font-size="7"><tspan font-weight="bold">2.8</tspan>× (1.8 - 4.3)</text>
<path d="M492 387.4H497.7" stroke="#111" stroke-width="1.2"/>
<text x="489.2" y="389.80" font-size="6.7" text-anchor="end">ARVAC CG 50µg d28</text>
<path d="M551.86 387.4H594.21M551.86 385.4v4M594.21 385.4v4" stroke="#1e1ed2" stroke-width="1.3" fill="none"/>
<circle cx="573.04" cy="387.4" r="2.3" fill="#4450f0" stroke="#1e1ed2" stroke-width="1.2"/>
<text x="599.00" y="389.90" font-size="7"><tspan font-weight="bold">11.3</tspan>× (5.7 - 22.4)</text>
<path d="M492 395.9H497.7" stroke="#111" stroke-width="1.2"/>
<text x="489.2" y="398.30" font-size="6.7" text-anchor="end">ARVAC CG 25µg d28</text>
<path d="M564.95 395.9H583.80M564.95 393.9v4M583.80 393.9v4" stroke="#1c8ea6" stroke-width="1.3" fill="none"/>
<circle cx="574.64" cy="395.9" r="2.3" fill="#4aa2f2" stroke="#1c8ea6" stroke-width="1.2"/>
<text x="586.30" y="398.40" font-size="7"><tspan font-weight="bold">11.9</tspan>× (8.8 - 16.0)</text>
<path d="M657.7 250.8H667V259.4H664.7" stroke="#222" stroke-width="0.9" fill="none"/>
<path d="M667 250.8H676.4V269.5H671.2" stroke="#222" stroke-width="0.9" fill="none"/>
<path d="M648.8 282.5H662.6V292.2H660" stroke="#222" stroke-width="0.9" fill="none"/>
<path d="M662.6 282.5H673.6V301.3H668" stroke="#222" stroke-width="0.9" fill="none"/>
<path d="M654.8 313.4H668.3V323.2H665.5" stroke="#222" stroke-width="0.9" fill="none"/>
<path d="M668.3 313.4H676.1V331.9H671.1" stroke="#222" stroke-width="0.9" fill="none"/>
<path d="M653.2 346.5H667.3V356.1H663.7" stroke="#222" stroke-width="0.9" fill="none"/>
<path d="M667.3 346.5H674.5V365.6H670.2" stroke="#222" stroke-width="0.9" fill="none"/>
<path d="M644 378.5H658V388.2H655.5" stroke="#222" stroke-width="0.9" fill="none"/>
<path d="M658 378.5H670.9V397.2H666.3" stroke="#222" stroke-width="0.9" fill="none"/>
<text x="668.3" y="257.3" font-size="6.7">ns</text>
<text x="676.7" y="263" font-size="6.7">ns</text>
<text x="663.4" y="289.3" font-size="6.7">ns</text>
<text x="674.8" y="294.7" font-size="6.7">ns</text>
<text x="669" y="319.6" font-size="6.7">ns</text>
<text x="676.5" y="325.8" font-size="6.7">ns</text>
<text x="676" y="359" font-size="6.7">ns</text>
<polygon points="671.30,349.90 672.03,351.39 673.68,351.63 672.49,352.79 672.77,354.42 671.30,353.65 669.83,354.42 670.11,352.79 668.92,351.63 670.57,351.39" fill="#111"/>
<polygon points="661.30,378.35 661.99,379.75 663.53,379.97 662.42,381.06 662.68,382.60 661.30,381.88 659.92,382.60 660.18,381.06 659.07,379.97 660.61,379.75" fill="#111"/>
<polygon points="661.30,381.95 661.99,383.35 663.53,383.57 662.42,384.66 662.68,386.20 661.30,385.48 659.92,386.20 660.18,384.66 659.07,383.57 660.61,383.35" fill="#111"/>
<polygon points="661.30,385.55 661.99,386.95 663.53,387.17 662.42,388.26 662.68,389.80 661.30,389.07 659.92,389.80 660.18,388.26 659.07,387.17 660.61,386.95" fill="#111"/>
<polygon points="674.80,380.45 675.49,381.85 677.03,382.07 675.92,383.16 676.18,384.70 674.80,383.98 673.42,384.70 673.68,383.16 672.57,382.07 674.11,381.85" fill="#111"/>
<polygon points="674.80,384.05 675.49,385.45 677.03,385.67 675.92,386.76 676.18,388.30 674.80,387.57 673.42,388.30 673.68,386.76 672.57,385.67 674.11,385.45" fill="#111"/>
<polygon points="674.80,387.95 675.49,389.35 677.03,389.57 675.92,390.66 676.18,392.20 674.80,391.48 673.42,392.20 673.68,390.66 672.57,389.57 674.11,389.35" fill="#111"/>
<polygon points="674.80,391.85 675.49,393.25 677.03,393.47 675.92,394.56 676.18,396.10 674.80,395.38 673.42,396.10 673.68,394.56 672.57,393.47 674.11,393.25" fill="#111"/>
</svg></body></html>
